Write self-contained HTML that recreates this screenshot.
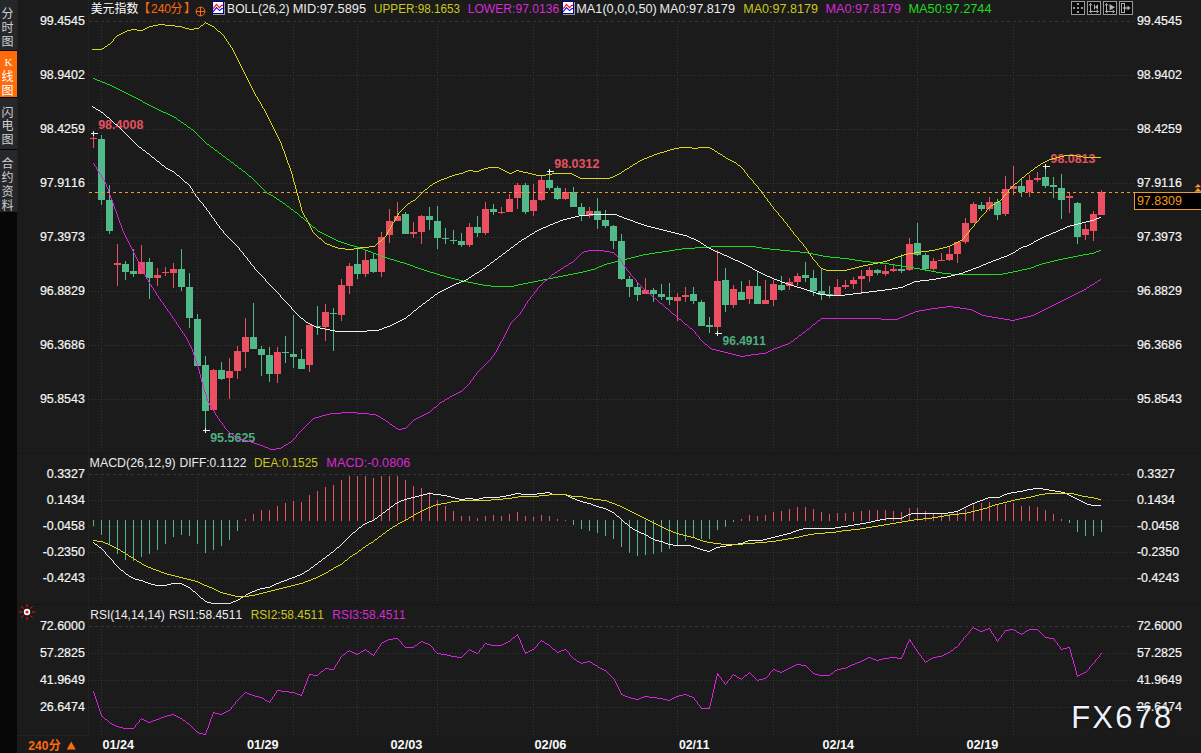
<!DOCTYPE html>
<html><head><meta charset="utf-8"><title>chart</title>
<style>
html,body{margin:0;padding:0;background:#1b1b1b;overflow:hidden}
svg{display:block;font-family:"Liberation Sans","Noto Sans CJK SC",sans-serif}
text{white-space:pre;font-kerning:none}
</style></head><body>
<svg width="1201" height="753" viewBox="0 0 1201 753">
<rect x="0" y="0" width="1201" height="753" fill="#1b1b1b"/>
<rect x="0" y="0" width="17" height="753" fill="#070707"/>
<rect x="0" y="0" width="17.5" height="50" fill="#26272b"/>
<rect x="0" y="51" width="17" height="46" fill="#ff6a0a"/>
<rect x="0" y="98" width="17.5" height="51" fill="#26272b"/>
<rect x="0" y="150" width="17.5" height="62" fill="#26272b"/>
<text x="7.6" y="17.5" fill="#cfcfcf" font-size="12" text-anchor="middle" font-family="'Liberation Sans','Noto Sans CJK SC',sans-serif">分</text>
<text x="7.6" y="31.5" fill="#cfcfcf" font-size="12" text-anchor="middle" font-family="'Liberation Sans','Noto Sans CJK SC',sans-serif">时</text>
<text x="7.6" y="45.5" fill="#cfcfcf" font-size="12" text-anchor="middle" font-family="'Liberation Sans','Noto Sans CJK SC',sans-serif">图</text>
<text x="7.6" y="80.5" fill="#ffffff" font-size="12" text-anchor="middle" font-family="'Liberation Sans','Noto Sans CJK SC',sans-serif">线</text>
<text x="7.6" y="94.5" fill="#ffffff" font-size="12" text-anchor="middle" font-family="'Liberation Sans','Noto Sans CJK SC',sans-serif">图</text>
<text x="8.5" y="65.7" fill="#fff" font-size="11" text-anchor="middle" font-family="Liberation Serif">K</text>
<text x="7.6" y="116.5" fill="#cfcfcf" font-size="12" text-anchor="middle" font-family="'Liberation Sans','Noto Sans CJK SC',sans-serif">闪</text>
<text x="7.6" y="129.8" fill="#cfcfcf" font-size="12" text-anchor="middle" font-family="'Liberation Sans','Noto Sans CJK SC',sans-serif">电</text>
<text x="7.6" y="143.5" fill="#cfcfcf" font-size="12" text-anchor="middle" font-family="'Liberation Sans','Noto Sans CJK SC',sans-serif">图</text>
<text x="7.6" y="168.3" fill="#cfcfcf" font-size="12" text-anchor="middle" font-family="'Liberation Sans','Noto Sans CJK SC',sans-serif">合</text>
<text x="7.6" y="182.3" fill="#cfcfcf" font-size="12" text-anchor="middle" font-family="'Liberation Sans','Noto Sans CJK SC',sans-serif">约</text>
<text x="7.6" y="195.8" fill="#cfcfcf" font-size="12" text-anchor="middle" font-family="'Liberation Sans','Noto Sans CJK SC',sans-serif">资</text>
<text x="7.6" y="210" fill="#cfcfcf" font-size="12" text-anchor="middle" font-family="'Liberation Sans','Noto Sans CJK SC',sans-serif">料</text>
<rect x="88" y="0" width="1" height="735" fill="#222222"/>
<rect x="18" y="453" width="1183" height="1" fill="#161616"/>
<rect x="18" y="604" width="1183" height="1" fill="#161616"/>
<rect x="17" y="735" width="1184" height="18" fill="#1a1a1a"/>
<rect x="17" y="735" width="72" height="1" fill="#232323"/>
<g shape-rendering="crispEdges">
<line x1="89" y1="21.5" x2="1134" y2="21.5" stroke="#373737" stroke-width="1" stroke-dasharray="3 3"/>
<line x1="89" y1="75.5" x2="1134" y2="75.5" stroke="#373737" stroke-width="1" stroke-dasharray="1 2"/>
<line x1="89" y1="129.5" x2="1134" y2="129.5" stroke="#373737" stroke-width="1" stroke-dasharray="1 2"/>
<line x1="89" y1="183.5" x2="1134" y2="183.5" stroke="#373737" stroke-width="1" stroke-dasharray="1 2"/>
<line x1="89" y1="237.5" x2="1134" y2="237.5" stroke="#373737" stroke-width="1" stroke-dasharray="1 2"/>
<line x1="89" y1="291.5" x2="1134" y2="291.5" stroke="#373737" stroke-width="1" stroke-dasharray="1 2"/>
<line x1="89" y1="345.5" x2="1134" y2="345.5" stroke="#373737" stroke-width="1" stroke-dasharray="1 2"/>
<line x1="89" y1="399.5" x2="1134" y2="399.5" stroke="#373737" stroke-width="1" stroke-dasharray="1 2"/>
<line x1="89" y1="474.5" x2="1134" y2="474.5" stroke="#373737" stroke-width="1" stroke-dasharray="3 3"/>
<line x1="89" y1="500.5" x2="1134" y2="500.5" stroke="#373737" stroke-width="1" stroke-dasharray="1 2"/>
<line x1="89" y1="526.5" x2="1134" y2="526.5" stroke="#373737" stroke-width="1" stroke-dasharray="1 2"/>
<line x1="89" y1="552.5" x2="1134" y2="552.5" stroke="#373737" stroke-width="1" stroke-dasharray="1 2"/>
<line x1="89" y1="578.5" x2="1134" y2="578.5" stroke="#373737" stroke-width="1" stroke-dasharray="1 2"/>
<line x1="89" y1="626.5" x2="1134" y2="626.5" stroke="#373737" stroke-width="1" stroke-dasharray="3 3"/>
<line x1="89" y1="653.5" x2="1134" y2="653.5" stroke="#373737" stroke-width="1" stroke-dasharray="1 2"/>
<line x1="89" y1="680.5" x2="1134" y2="680.5" stroke="#373737" stroke-width="1" stroke-dasharray="1 2"/>
<line x1="89" y1="707.5" x2="1134" y2="707.5" stroke="#373737" stroke-width="1" stroke-dasharray="1 2"/>
<line x1="101.5" y1="24" x2="101.5" y2="452" stroke="#373737" stroke-width="1" stroke-dasharray="1 2"/>
<line x1="101.5" y1="477" x2="101.5" y2="603" stroke="#373737" stroke-width="1" stroke-dasharray="1 2"/>
<line x1="101.5" y1="629" x2="101.5" y2="735" stroke="#373737" stroke-width="1" stroke-dasharray="1 2"/>
<line x1="197.5" y1="24" x2="197.5" y2="452" stroke="#373737" stroke-width="1" stroke-dasharray="1 2"/>
<line x1="197.5" y1="477" x2="197.5" y2="603" stroke="#373737" stroke-width="1" stroke-dasharray="1 2"/>
<line x1="197.5" y1="629" x2="197.5" y2="735" stroke="#373737" stroke-width="1" stroke-dasharray="1 2"/>
<line x1="293.5" y1="24" x2="293.5" y2="452" stroke="#373737" stroke-width="1" stroke-dasharray="1 2"/>
<line x1="293.5" y1="477" x2="293.5" y2="603" stroke="#373737" stroke-width="1" stroke-dasharray="1 2"/>
<line x1="293.5" y1="629" x2="293.5" y2="735" stroke="#373737" stroke-width="1" stroke-dasharray="1 2"/>
<line x1="357.5" y1="24" x2="357.5" y2="452" stroke="#373737" stroke-width="1" stroke-dasharray="1 2"/>
<line x1="357.5" y1="477" x2="357.5" y2="603" stroke="#373737" stroke-width="1" stroke-dasharray="1 2"/>
<line x1="357.5" y1="629" x2="357.5" y2="735" stroke="#373737" stroke-width="1" stroke-dasharray="1 2"/>
<line x1="437.5" y1="24" x2="437.5" y2="452" stroke="#373737" stroke-width="1" stroke-dasharray="1 2"/>
<line x1="437.5" y1="477" x2="437.5" y2="603" stroke="#373737" stroke-width="1" stroke-dasharray="1 2"/>
<line x1="437.5" y1="629" x2="437.5" y2="735" stroke="#373737" stroke-width="1" stroke-dasharray="1 2"/>
<line x1="533.5" y1="24" x2="533.5" y2="452" stroke="#373737" stroke-width="1" stroke-dasharray="1 2"/>
<line x1="533.5" y1="477" x2="533.5" y2="603" stroke="#373737" stroke-width="1" stroke-dasharray="1 2"/>
<line x1="533.5" y1="629" x2="533.5" y2="735" stroke="#373737" stroke-width="1" stroke-dasharray="1 2"/>
<line x1="597.5" y1="24" x2="597.5" y2="452" stroke="#373737" stroke-width="1" stroke-dasharray="1 2"/>
<line x1="597.5" y1="477" x2="597.5" y2="603" stroke="#373737" stroke-width="1" stroke-dasharray="1 2"/>
<line x1="597.5" y1="629" x2="597.5" y2="735" stroke="#373737" stroke-width="1" stroke-dasharray="1 2"/>
<line x1="677.5" y1="24" x2="677.5" y2="452" stroke="#373737" stroke-width="1" stroke-dasharray="1 2"/>
<line x1="677.5" y1="477" x2="677.5" y2="603" stroke="#373737" stroke-width="1" stroke-dasharray="1 2"/>
<line x1="677.5" y1="629" x2="677.5" y2="735" stroke="#373737" stroke-width="1" stroke-dasharray="1 2"/>
<line x1="773.5" y1="24" x2="773.5" y2="452" stroke="#373737" stroke-width="1" stroke-dasharray="1 2"/>
<line x1="773.5" y1="477" x2="773.5" y2="603" stroke="#373737" stroke-width="1" stroke-dasharray="1 2"/>
<line x1="773.5" y1="629" x2="773.5" y2="735" stroke="#373737" stroke-width="1" stroke-dasharray="1 2"/>
<line x1="837.5" y1="24" x2="837.5" y2="452" stroke="#373737" stroke-width="1" stroke-dasharray="1 2"/>
<line x1="837.5" y1="477" x2="837.5" y2="603" stroke="#373737" stroke-width="1" stroke-dasharray="1 2"/>
<line x1="837.5" y1="629" x2="837.5" y2="735" stroke="#373737" stroke-width="1" stroke-dasharray="1 2"/>
<line x1="917.5" y1="24" x2="917.5" y2="452" stroke="#373737" stroke-width="1" stroke-dasharray="1 2"/>
<line x1="917.5" y1="477" x2="917.5" y2="603" stroke="#373737" stroke-width="1" stroke-dasharray="1 2"/>
<line x1="917.5" y1="629" x2="917.5" y2="735" stroke="#373737" stroke-width="1" stroke-dasharray="1 2"/>
<line x1="1013.5" y1="24" x2="1013.5" y2="452" stroke="#373737" stroke-width="1" stroke-dasharray="1 2"/>
<line x1="1013.5" y1="477" x2="1013.5" y2="603" stroke="#373737" stroke-width="1" stroke-dasharray="1 2"/>
<line x1="1013.5" y1="629" x2="1013.5" y2="735" stroke="#373737" stroke-width="1" stroke-dasharray="1 2"/>
</g>
<g shape-rendering="crispEdges">
<rect x="93" y="136" width="1" height="12" fill="#ec4f62"/>
<rect x="90" y="138" width="7" height="1" fill="#ec4f62"/>
<rect x="101" y="135" width="1" height="70" fill="#52b98a"/>
<rect x="98" y="139" width="7" height="61" fill="#52b98a"/>
<rect x="109" y="185" width="1" height="49" fill="#52b98a"/>
<rect x="106" y="200" width="7" height="31" fill="#52b98a"/>
<rect x="117" y="244" width="1" height="42" fill="#ec4f62"/>
<rect x="114" y="263" width="7" height="2" fill="#ec4f62"/>
<rect x="125" y="261" width="1" height="19" fill="#52b98a"/>
<rect x="122" y="264" width="7" height="8" fill="#52b98a"/>
<rect x="133" y="249" width="1" height="28" fill="#52b98a"/>
<rect x="130" y="271" width="7" height="3" fill="#52b98a"/>
<rect x="141" y="245" width="1" height="29" fill="#ec4f62"/>
<rect x="138" y="262" width="7" height="12" fill="#ec4f62"/>
<rect x="149" y="258" width="1" height="41" fill="#52b98a"/>
<rect x="146" y="262" width="7" height="16" fill="#52b98a"/>
<rect x="157" y="268" width="1" height="18" fill="#ec4f62"/>
<rect x="154" y="275" width="7" height="3" fill="#ec4f62"/>
<rect x="165" y="267" width="1" height="9" fill="#ec4f62"/>
<rect x="162" y="272" width="7" height="1" fill="#ec4f62"/>
<rect x="173" y="263" width="1" height="25" fill="#ec4f62"/>
<rect x="170" y="269" width="7" height="4" fill="#ec4f62"/>
<rect x="181" y="249" width="1" height="42" fill="#52b98a"/>
<rect x="178" y="269" width="7" height="18" fill="#52b98a"/>
<rect x="189" y="273" width="1" height="55" fill="#52b98a"/>
<rect x="186" y="287" width="7" height="31" fill="#52b98a"/>
<rect x="197" y="314" width="1" height="52" fill="#52b98a"/>
<rect x="194" y="319" width="7" height="47" fill="#52b98a"/>
<rect x="205" y="356" width="1" height="74" fill="#52b98a"/>
<rect x="202" y="365" width="7" height="46" fill="#52b98a"/>
<rect x="213" y="369" width="1" height="41" fill="#ec4f62"/>
<rect x="210" y="370" width="7" height="40" fill="#ec4f62"/>
<rect x="221" y="362" width="1" height="18" fill="#52b98a"/>
<rect x="218" y="370" width="7" height="9" fill="#52b98a"/>
<rect x="229" y="358" width="1" height="41" fill="#ec4f62"/>
<rect x="226" y="371" width="7" height="7" fill="#ec4f62"/>
<rect x="237" y="346" width="1" height="33" fill="#ec4f62"/>
<rect x="234" y="351" width="7" height="20" fill="#ec4f62"/>
<rect x="245" y="318" width="1" height="50" fill="#ec4f62"/>
<rect x="242" y="337" width="7" height="15" fill="#ec4f62"/>
<rect x="253" y="303" width="1" height="46" fill="#52b98a"/>
<rect x="250" y="337" width="7" height="12" fill="#52b98a"/>
<rect x="261" y="346" width="1" height="30" fill="#52b98a"/>
<rect x="258" y="349" width="7" height="6" fill="#52b98a"/>
<rect x="269" y="347" width="1" height="35" fill="#52b98a"/>
<rect x="266" y="355" width="7" height="19" fill="#52b98a"/>
<rect x="277" y="347" width="1" height="36" fill="#ec4f62"/>
<rect x="274" y="352" width="7" height="22" fill="#ec4f62"/>
<rect x="285" y="336" width="1" height="27" fill="#52b98a"/>
<rect x="282" y="352" width="7" height="1" fill="#52b98a"/>
<rect x="293" y="315" width="1" height="53" fill="#52b98a"/>
<rect x="290" y="354" width="7" height="3" fill="#52b98a"/>
<rect x="301" y="349" width="1" height="20" fill="#52b98a"/>
<rect x="298" y="359" width="7" height="10" fill="#52b98a"/>
<rect x="309" y="325" width="1" height="47" fill="#ec4f62"/>
<rect x="306" y="325" width="7" height="40" fill="#ec4f62"/>
<rect x="317" y="306" width="1" height="29" fill="#52b98a"/>
<rect x="314" y="326" width="7" height="1" fill="#52b98a"/>
<rect x="325" y="304" width="1" height="37" fill="#ec4f62"/>
<rect x="322" y="312" width="7" height="15" fill="#ec4f62"/>
<rect x="333" y="308" width="1" height="43" fill="#52b98a"/>
<rect x="330" y="313" width="7" height="1" fill="#52b98a"/>
<rect x="341" y="279" width="1" height="42" fill="#ec4f62"/>
<rect x="338" y="285" width="7" height="30" fill="#ec4f62"/>
<rect x="349" y="263" width="1" height="31" fill="#ec4f62"/>
<rect x="346" y="266" width="7" height="20" fill="#ec4f62"/>
<rect x="357" y="248" width="1" height="31" fill="#52b98a"/>
<rect x="354" y="264" width="7" height="10" fill="#52b98a"/>
<rect x="365" y="251" width="1" height="26" fill="#ec4f62"/>
<rect x="362" y="260" width="7" height="14" fill="#ec4f62"/>
<rect x="373" y="254" width="1" height="19" fill="#52b98a"/>
<rect x="370" y="259" width="7" height="13" fill="#52b98a"/>
<rect x="381" y="232" width="1" height="45" fill="#ec4f62"/>
<rect x="378" y="237" width="7" height="35" fill="#ec4f62"/>
<rect x="389" y="209" width="1" height="34" fill="#ec4f62"/>
<rect x="386" y="221" width="7" height="14" fill="#ec4f62"/>
<rect x="397" y="202" width="1" height="19" fill="#ec4f62"/>
<rect x="394" y="216" width="7" height="5" fill="#ec4f62"/>
<rect x="405" y="212" width="1" height="22" fill="#52b98a"/>
<rect x="402" y="214" width="7" height="20" fill="#52b98a"/>
<rect x="413" y="222" width="1" height="16" fill="#ec4f62"/>
<rect x="410" y="232" width="7" height="2" fill="#ec4f62"/>
<rect x="421" y="215" width="1" height="29" fill="#ec4f62"/>
<rect x="418" y="216" width="7" height="16" fill="#ec4f62"/>
<rect x="429" y="207" width="1" height="23" fill="#52b98a"/>
<rect x="426" y="216" width="7" height="4" fill="#52b98a"/>
<rect x="437" y="206" width="1" height="43" fill="#52b98a"/>
<rect x="434" y="221" width="7" height="17" fill="#52b98a"/>
<rect x="445" y="228" width="1" height="16" fill="#52b98a"/>
<rect x="442" y="238" width="7" height="1" fill="#52b98a"/>
<rect x="453" y="230" width="1" height="14" fill="#52b98a"/>
<rect x="450" y="240" width="7" height="1" fill="#52b98a"/>
<rect x="461" y="233" width="1" height="14" fill="#52b98a"/>
<rect x="458" y="241" width="7" height="4" fill="#52b98a"/>
<rect x="469" y="223" width="1" height="24" fill="#ec4f62"/>
<rect x="466" y="227" width="7" height="18" fill="#ec4f62"/>
<rect x="477" y="216" width="1" height="21" fill="#52b98a"/>
<rect x="474" y="227" width="7" height="6" fill="#52b98a"/>
<rect x="485" y="202" width="1" height="33" fill="#ec4f62"/>
<rect x="482" y="209" width="7" height="24" fill="#ec4f62"/>
<rect x="493" y="204" width="1" height="11" fill="#52b98a"/>
<rect x="490" y="209" width="7" height="3" fill="#52b98a"/>
<rect x="501" y="207" width="1" height="7" fill="#ec4f62"/>
<rect x="498" y="212" width="7" height="1" fill="#ec4f62"/>
<rect x="509" y="194" width="1" height="18" fill="#ec4f62"/>
<rect x="506" y="199" width="7" height="13" fill="#ec4f62"/>
<rect x="517" y="183" width="1" height="26" fill="#ec4f62"/>
<rect x="514" y="185" width="7" height="13" fill="#ec4f62"/>
<rect x="525" y="183" width="1" height="31" fill="#52b98a"/>
<rect x="522" y="185" width="7" height="27" fill="#52b98a"/>
<rect x="533" y="184" width="1" height="32" fill="#ec4f62"/>
<rect x="530" y="200" width="7" height="11" fill="#ec4f62"/>
<rect x="541" y="176" width="1" height="25" fill="#ec4f62"/>
<rect x="538" y="180" width="7" height="20" fill="#ec4f62"/>
<rect x="549" y="170" width="1" height="20" fill="#52b98a"/>
<rect x="546" y="180" width="7" height="8" fill="#52b98a"/>
<rect x="557" y="186" width="1" height="14" fill="#52b98a"/>
<rect x="554" y="188" width="7" height="11" fill="#52b98a"/>
<rect x="565" y="188" width="1" height="12" fill="#ec4f62"/>
<rect x="562" y="192" width="7" height="7" fill="#ec4f62"/>
<rect x="573" y="187" width="1" height="20" fill="#52b98a"/>
<rect x="570" y="192" width="7" height="15" fill="#52b98a"/>
<rect x="581" y="203" width="1" height="18" fill="#52b98a"/>
<rect x="578" y="207" width="7" height="8" fill="#52b98a"/>
<rect x="589" y="207" width="1" height="11" fill="#ec4f62"/>
<rect x="586" y="211" width="7" height="5" fill="#ec4f62"/>
<rect x="597" y="198" width="1" height="31" fill="#52b98a"/>
<rect x="594" y="211" width="7" height="9" fill="#52b98a"/>
<rect x="605" y="210" width="1" height="18" fill="#52b98a"/>
<rect x="602" y="220" width="7" height="6" fill="#52b98a"/>
<rect x="613" y="225" width="1" height="24" fill="#52b98a"/>
<rect x="610" y="226" width="7" height="15" fill="#52b98a"/>
<rect x="621" y="234" width="1" height="46" fill="#52b98a"/>
<rect x="618" y="241" width="7" height="38" fill="#52b98a"/>
<rect x="629" y="276" width="1" height="21" fill="#52b98a"/>
<rect x="626" y="279" width="7" height="8" fill="#52b98a"/>
<rect x="637" y="283" width="1" height="18" fill="#52b98a"/>
<rect x="634" y="287" width="7" height="8" fill="#52b98a"/>
<rect x="645" y="278" width="1" height="16" fill="#ec4f62"/>
<rect x="642" y="290" width="7" height="4" fill="#ec4f62"/>
<rect x="653" y="288" width="1" height="14" fill="#52b98a"/>
<rect x="650" y="290" width="7" height="4" fill="#52b98a"/>
<rect x="661" y="284" width="1" height="16" fill="#52b98a"/>
<rect x="658" y="294" width="7" height="3" fill="#52b98a"/>
<rect x="669" y="283" width="1" height="22" fill="#52b98a"/>
<rect x="666" y="297" width="7" height="3" fill="#52b98a"/>
<rect x="677" y="293" width="1" height="28" fill="#ec4f62"/>
<rect x="674" y="297" width="7" height="4" fill="#ec4f62"/>
<rect x="685" y="287" width="1" height="15" fill="#ec4f62"/>
<rect x="682" y="295" width="7" height="2" fill="#ec4f62"/>
<rect x="693" y="287" width="1" height="17" fill="#52b98a"/>
<rect x="690" y="294" width="7" height="7" fill="#52b98a"/>
<rect x="701" y="300" width="1" height="26" fill="#52b98a"/>
<rect x="698" y="302" width="7" height="24" fill="#52b98a"/>
<rect x="709" y="317" width="1" height="16" fill="#52b98a"/>
<rect x="706" y="325" width="7" height="2" fill="#52b98a"/>
<rect x="717" y="250" width="1" height="84" fill="#ec4f62"/>
<rect x="714" y="281" width="7" height="46" fill="#ec4f62"/>
<rect x="725" y="268" width="1" height="44" fill="#52b98a"/>
<rect x="722" y="280" width="7" height="25" fill="#52b98a"/>
<rect x="733" y="285" width="1" height="23" fill="#ec4f62"/>
<rect x="730" y="289" width="7" height="16" fill="#ec4f62"/>
<rect x="741" y="281" width="1" height="19" fill="#52b98a"/>
<rect x="738" y="292" width="7" height="8" fill="#52b98a"/>
<rect x="749" y="280" width="1" height="24" fill="#ec4f62"/>
<rect x="746" y="286" width="7" height="13" fill="#ec4f62"/>
<rect x="757" y="271" width="1" height="33" fill="#52b98a"/>
<rect x="754" y="286" width="7" height="18" fill="#52b98a"/>
<rect x="765" y="280" width="1" height="24" fill="#ec4f62"/>
<rect x="762" y="300" width="7" height="4" fill="#ec4f62"/>
<rect x="773" y="280" width="1" height="26" fill="#ec4f62"/>
<rect x="770" y="284" width="7" height="16" fill="#ec4f62"/>
<rect x="781" y="276" width="1" height="15" fill="#52b98a"/>
<rect x="778" y="285" width="7" height="5" fill="#52b98a"/>
<rect x="789" y="278" width="1" height="12" fill="#ec4f62"/>
<rect x="786" y="282" width="7" height="4" fill="#ec4f62"/>
<rect x="797" y="273" width="1" height="13" fill="#ec4f62"/>
<rect x="794" y="276" width="7" height="6" fill="#ec4f62"/>
<rect x="805" y="262" width="1" height="20" fill="#52b98a"/>
<rect x="802" y="275" width="7" height="3" fill="#52b98a"/>
<rect x="813" y="270" width="1" height="26" fill="#52b98a"/>
<rect x="810" y="278" width="7" height="13" fill="#52b98a"/>
<rect x="821" y="269" width="1" height="31" fill="#52b98a"/>
<rect x="818" y="291" width="7" height="4" fill="#52b98a"/>
<rect x="829" y="286" width="1" height="12" fill="#52b98a"/>
<rect x="826" y="294" width="7" height="2" fill="#52b98a"/>
<rect x="837" y="279" width="1" height="17" fill="#ec4f62"/>
<rect x="834" y="287" width="7" height="9" fill="#ec4f62"/>
<rect x="845" y="280" width="1" height="9" fill="#ec4f62"/>
<rect x="842" y="285" width="7" height="2" fill="#ec4f62"/>
<rect x="853" y="277" width="1" height="12" fill="#ec4f62"/>
<rect x="850" y="280" width="7" height="4" fill="#ec4f62"/>
<rect x="861" y="270" width="1" height="24" fill="#ec4f62"/>
<rect x="858" y="276" width="7" height="3" fill="#ec4f62"/>
<rect x="869" y="267" width="1" height="15" fill="#ec4f62"/>
<rect x="866" y="270" width="7" height="6" fill="#ec4f62"/>
<rect x="877" y="269" width="1" height="6" fill="#52b98a"/>
<rect x="874" y="270" width="7" height="3" fill="#52b98a"/>
<rect x="885" y="265" width="1" height="11" fill="#ec4f62"/>
<rect x="882" y="271" width="7" height="3" fill="#ec4f62"/>
<rect x="893" y="265" width="1" height="7" fill="#ec4f62"/>
<rect x="890" y="269" width="7" height="2" fill="#ec4f62"/>
<rect x="901" y="254" width="1" height="19" fill="#52b98a"/>
<rect x="898" y="269" width="7" height="2" fill="#52b98a"/>
<rect x="909" y="238" width="1" height="33" fill="#ec4f62"/>
<rect x="906" y="244" width="7" height="26" fill="#ec4f62"/>
<rect x="917" y="223" width="1" height="33" fill="#52b98a"/>
<rect x="914" y="243" width="7" height="12" fill="#52b98a"/>
<rect x="925" y="253" width="1" height="17" fill="#52b98a"/>
<rect x="922" y="255" width="7" height="14" fill="#52b98a"/>
<rect x="933" y="258" width="1" height="14" fill="#ec4f62"/>
<rect x="930" y="261" width="7" height="8" fill="#ec4f62"/>
<rect x="941" y="253" width="1" height="8" fill="#ec4f62"/>
<rect x="938" y="260" width="7" height="1" fill="#ec4f62"/>
<rect x="949" y="247" width="1" height="14" fill="#ec4f62"/>
<rect x="946" y="254" width="7" height="6" fill="#ec4f62"/>
<rect x="957" y="242" width="1" height="21" fill="#ec4f62"/>
<rect x="954" y="242" width="7" height="12" fill="#ec4f62"/>
<rect x="965" y="218" width="1" height="26" fill="#ec4f62"/>
<rect x="962" y="223" width="7" height="19" fill="#ec4f62"/>
<rect x="973" y="202" width="1" height="21" fill="#ec4f62"/>
<rect x="970" y="204" width="7" height="19" fill="#ec4f62"/>
<rect x="981" y="202" width="1" height="9" fill="#52b98a"/>
<rect x="978" y="205" width="7" height="4" fill="#52b98a"/>
<rect x="989" y="197" width="1" height="14" fill="#ec4f62"/>
<rect x="986" y="202" width="7" height="7" fill="#ec4f62"/>
<rect x="997" y="199" width="1" height="21" fill="#52b98a"/>
<rect x="994" y="202" width="7" height="13" fill="#52b98a"/>
<rect x="1005" y="176" width="1" height="40" fill="#ec4f62"/>
<rect x="1002" y="189" width="7" height="25" fill="#ec4f62"/>
<rect x="1013" y="166" width="1" height="29" fill="#ec4f62"/>
<rect x="1010" y="186" width="7" height="3" fill="#ec4f62"/>
<rect x="1021" y="179" width="1" height="18" fill="#52b98a"/>
<rect x="1018" y="186" width="7" height="6" fill="#52b98a"/>
<rect x="1029" y="175" width="1" height="22" fill="#ec4f62"/>
<rect x="1026" y="180" width="7" height="12" fill="#ec4f62"/>
<rect x="1037" y="172" width="1" height="10" fill="#ec4f62"/>
<rect x="1034" y="178" width="7" height="2" fill="#ec4f62"/>
<rect x="1045" y="166" width="1" height="22" fill="#52b98a"/>
<rect x="1042" y="177" width="7" height="9" fill="#52b98a"/>
<rect x="1053" y="177" width="1" height="21" fill="#52b98a"/>
<rect x="1050" y="185" width="7" height="2" fill="#52b98a"/>
<rect x="1061" y="174" width="1" height="45" fill="#52b98a"/>
<rect x="1058" y="188" width="7" height="12" fill="#52b98a"/>
<rect x="1069" y="192" width="1" height="21" fill="#ec4f62"/>
<rect x="1066" y="196" width="7" height="2" fill="#ec4f62"/>
<rect x="1077" y="202" width="1" height="42" fill="#52b98a"/>
<rect x="1074" y="203" width="7" height="34" fill="#52b98a"/>
<rect x="1085" y="224" width="1" height="16" fill="#ec4f62"/>
<rect x="1082" y="229" width="7" height="6" fill="#ec4f62"/>
<rect x="1093" y="211" width="1" height="30" fill="#ec4f62"/>
<rect x="1090" y="214" width="7" height="17" fill="#ec4f62"/>
<rect x="1101" y="190" width="1" height="25" fill="#ec4f62"/>
<rect x="1098" y="192" width="7" height="23" fill="#ec4f62"/>
</g>
<text x="98.17" y="128.7" fill="#e4525f" font-size="12" font-weight="bold" textLength="45.22" lengthAdjust="spacingAndGlyphs" >98.4008</text>
<text x="554.17" y="168.3" fill="#e4525f" font-size="12" font-weight="bold" textLength="45.34" lengthAdjust="spacingAndGlyphs" >98.0312</text>
<text x="1050.57" y="163.3" fill="#e4525f" font-size="12" font-weight="bold" textLength="44.88" lengthAdjust="spacingAndGlyphs" >98.0813</text>
<text x="210.17" y="442" fill="#4fae84" font-size="12" font-weight="bold" textLength="45.18" lengthAdjust="spacingAndGlyphs" >95.5625</text>
<text x="722.59" y="345.3" fill="#4fae84" font-size="12" font-weight="bold" textLength="43.25" lengthAdjust="spacingAndGlyphs" >96.4911</text>
<g shape-rendering="crispEdges" stroke-linejoin="round">
<path d="M93 78h2v1h-2zM95 79h2v1h-2zM97 80h3v1h-3zM100 81h2v1h-2zM102 82h3v1h-3zM105 83h2v1h-2zM107 84h3v1h-3zM110 85h2v1h-2zM112 86h2v1h-2zM114 87h2v1h-2zM116 88h2v1h-2zM118 89h2v1h-2zM120 90h2v1h-2zM122 91h2v1h-2zM124 92h2v1h-2zM126 93h2v1h-2zM128 94h2v1h-2zM130 95h2v1h-2zM132 96h2v1h-2zM134 97h2v1h-2zM136 98h2v1h-2zM138 99h2v1h-2zM140 100h2v1h-2zM142 101h1v1h-1zM143 102h2v1h-2zM145 103h2v1h-2zM147 104h2v1h-2zM149 105h2v1h-2zM151 106h2v1h-2zM153 107h2v1h-2zM155 108h2v1h-2zM157 109h2v1h-2zM159 110h2v1h-2zM161 111h2v1h-2zM163 112h3v1h-3zM166 113h2v1h-2zM168 114h2v1h-2zM170 115h2v1h-2zM172 116h2v1h-2zM174 117h2v1h-2zM176 118h1v1h-1zM177 119h1v1h-1zM178 120h2v1h-2zM180 121h1v1h-1zM181 122h2v1h-2zM183 123h1v1h-1zM184 124h2v1h-2zM186 125h1v1h-1zM187 126h1v1h-1zM188 127h2v1h-2zM190 128h1v1h-1zM191 129h2v1h-2zM193 130h1v1h-1zM194 131h1v1h-1zM195 132h1v1h-1zM196 133h1v1h-1zM197 134h1v1h-1zM198 135h1v1h-1zM199 136h1v1h-1zM200 137h1v1h-1zM201 138h1v1h-1zM202 139h1v1h-1zM203 140h1v1h-1zM204 141h1v1h-1zM205 142h1v1h-1zM206 143h1v1h-1zM207 144h2v1h-2zM209 145h1v1h-1zM210 146h1v1h-1zM211 147h2v1h-2zM213 148h1v1h-1zM214 149h1v1h-1zM215 150h2v1h-2zM217 151h1v1h-1zM218 152h1v1h-1zM219 153h2v1h-2zM221 154h1v1h-1zM222 155h1v1h-1zM223 156h2v1h-2zM225 157h1v1h-1zM226 158h1v1h-1zM227 159h2v1h-2zM229 160h1v1h-1zM230 161h1v1h-1zM231 162h2v1h-2zM233 163h1v1h-1zM234 164h1v1h-1zM235 165h2v1h-2zM237 166h1v1h-1zM238 167h1v1h-1zM239 168h2v1h-2zM241 169h1v1h-1zM242 170h1v1h-1zM243 171h2v1h-2zM245 172h1v1h-1zM246 173h1v1h-1zM247 174h1v1h-1zM248 175h1v1h-1zM249 176h2v1h-2zM251 177h1v1h-1zM252 178h1v1h-1zM253 179h1v1h-1zM254 180h1v1h-1zM255 181h1v1h-1zM256 182h1v1h-1zM257 183h1v1h-1zM258 184h1v1h-1zM259 185h1v1h-1zM260 186h1v1h-1zM261 187h1v1h-1zM262 188h1v1h-1zM263 189h1v1h-1zM264 190h1v1h-1zM265 191h1v1h-1zM266 192h1v1h-1zM267 193h2v1h-2zM269 194h2v1h-2zM271 195h2v1h-2zM273 196h1v1h-1zM274 197h2v1h-2zM276 198h1v1h-1zM277 199h2v1h-2zM279 200h1v1h-1zM280 201h2v1h-2zM282 202h1v1h-1zM283 203h2v1h-2zM285 204h1v1h-1zM286 205h1v1h-1zM287 206h2v1h-2zM289 207h1v1h-1zM290 208h1v1h-1zM291 209h2v1h-2zM293 210h1v1h-1zM294 211h1v1h-1zM295 212h2v1h-2zM297 213h1v1h-1zM298 214h1v1h-1zM299 215h1v1h-1zM300 216h1v1h-1zM301 217h2v1h-2zM303 218h1v1h-1zM304 219h1v1h-1zM305 220h1v1h-1zM306 221h2v1h-2zM308 222h1v1h-1zM309 223h1v1h-1zM310 224h1v1h-1zM311 225h1v1h-1zM312 226h1v1h-1zM313 227h2v1h-2zM315 228h1v1h-1zM316 229h1v1h-1zM317 230h1v1h-1zM318 231h2v1h-2zM320 232h2v1h-2zM322 233h2v1h-2zM324 234h2v1h-2zM326 235h2v1h-2zM328 236h2v1h-2zM330 237h2v1h-2zM332 238h2v1h-2zM334 239h2v1h-2zM336 240h2v1h-2zM338 241h3v1h-3zM341 242h3v1h-3zM344 243h3v1h-3zM347 244h3v1h-3zM350 245h4v1h-4zM354 246h3v1h-3zM711 246h45v1h-45zM357 247h3v1h-3zM695 247h16v1h-16zM756 247h6v1h-6zM360 248h3v1h-3zM682 248h13v1h-13zM762 248h8v1h-8zM363 249h2v1h-2zM675 249h7v1h-7zM770 249h10v1h-10zM365 250h3v1h-3zM669 250h6v1h-6zM780 250h10v1h-10zM1099 250h2v1h-2zM368 251h3v1h-3zM662 251h7v1h-7zM790 251h10v1h-10zM1096 251h3v1h-3zM371 252h2v1h-2zM655 252h7v1h-7zM800 252h8v1h-8zM1094 252h2v1h-2zM373 253h3v1h-3zM649 253h6v1h-6zM808 253h5v1h-5zM1089 253h5v1h-5zM376 254h3v1h-3zM643 254h6v1h-6zM813 254h5v1h-5zM1083 254h6v1h-6zM379 255h2v1h-2zM639 255h4v1h-4zM818 255h5v1h-5zM1078 255h5v1h-5zM381 256h3v1h-3zM635 256h4v1h-4zM823 256h7v1h-7zM1073 256h5v1h-5zM384 257h3v1h-3zM631 257h4v1h-4zM830 257h10v1h-10zM1068 257h5v1h-5zM387 258h3v1h-3zM627 258h4v1h-4zM840 258h9v1h-9zM1063 258h5v1h-5zM390 259h4v1h-4zM623 259h4v1h-4zM849 259h6v1h-6zM1058 259h5v1h-5zM394 260h3v1h-3zM619 260h4v1h-4zM855 260h7v1h-7zM1054 260h4v1h-4zM397 261h3v1h-3zM615 261h4v1h-4zM862 261h8v1h-8zM1050 261h4v1h-4zM400 262h4v1h-4zM611 262h4v1h-4zM870 262h10v1h-10zM1046 262h4v1h-4zM404 263h3v1h-3zM607 263h4v1h-4zM880 263h9v1h-9zM1042 263h4v1h-4zM407 264h3v1h-3zM604 264h3v1h-3zM889 264h6v1h-6zM1039 264h3v1h-3zM410 265h3v1h-3zM602 265h2v1h-2zM895 265h7v1h-7zM1036 265h3v1h-3zM413 266h2v1h-2zM599 266h3v1h-3zM902 266h6v1h-6zM1034 266h2v1h-2zM415 267h3v1h-3zM597 267h2v1h-2zM908 267h6v1h-6zM1031 267h3v1h-3zM418 268h3v1h-3zM595 268h2v1h-2zM914 268h6v1h-6zM1027 268h4v1h-4zM421 269h3v1h-3zM591 269h4v1h-4zM920 269h5v1h-5zM1022 269h5v1h-5zM424 270h3v1h-3zM587 270h4v1h-4zM925 270h6v1h-6zM1018 270h4v1h-4zM427 271h3v1h-3zM583 271h4v1h-4zM931 271h5v1h-5zM1013 271h5v1h-5zM430 272h4v1h-4zM578 272h5v1h-5zM936 272h6v1h-6zM1008 272h5v1h-5zM434 273h3v1h-3zM573 273h5v1h-5zM942 273h9v1h-9zM1003 273h5v1h-5zM437 274h3v1h-3zM568 274h5v1h-5zM951 274h52v1h-52zM440 275h4v1h-4zM563 275h5v1h-5zM444 276h3v1h-3zM558 276h5v1h-5zM447 277h4v1h-4zM553 277h5v1h-5zM451 278h4v1h-4zM548 278h5v1h-5zM455 279h4v1h-4zM543 279h5v1h-5zM459 280h4v1h-4zM538 280h5v1h-5zM463 281h5v1h-5zM533 281h5v1h-5zM468 282h5v1h-5zM528 282h5v1h-5zM473 283h5v1h-5zM523 283h5v1h-5zM478 284h5v1h-5zM518 284h5v1h-5zM483 285h8v1h-8zM514 285h4v1h-4zM491 286h23v1h-23z" fill="#20dc20"/>
<path d="M92 106h1v1h-1zM93 107h2v1h-2zM95 108h1v1h-1zM96 109h2v1h-2zM98 110h2v1h-2zM100 111h1v1h-1zM101 112h2v1h-2zM103 113h1v1h-1zM104 114h1v1h-1zM105 115h1v1h-1zM106 116h1v1h-1zM107 117h2v1h-2zM109 118h1v1h-1zM110 119h1v1h-1zM111 120h1v1h-1zM112 121h1v1h-1zM113 122h1v1h-1zM114 123h1v1h-1zM115 124h2v1h-2zM117 125h1v1h-1zM118 126h1v1h-1zM119 127h1v1h-1zM120 128h1v1h-1zM121 129h1v1h-1zM122 130h1v1h-1zM123 131h1v1h-1zM124 132h1v1h-1zM125 133h1v1h-1zM126 134h1v1h-1zM127 135h1v1h-1zM128 136h1v1h-1zM129 137h1v1h-1zM130 138h1v1h-1zM131 139h1v1h-1zM132 140h1v1h-1zM133 141h1v1h-1zM134 142h1v1h-1zM135 143h1v1h-1zM136 144h1v1h-1zM137 145h1v1h-1zM138 146h1v1h-1zM139 147h2v1h-2zM141 148h1v1h-1zM142 149h1v1h-1zM143 150h2v1h-2zM145 151h1v1h-1zM146 152h1v1h-1zM147 153h2v1h-2zM149 154h1v1h-1zM150 155h1v1h-1zM151 156h1v1h-1zM152 157h2v1h-2zM154 158h1v1h-1zM155 159h1v1h-1zM156 160h1v1h-1zM157 161h2v1h-2zM159 162h1v1h-1zM160 163h1v1h-1zM161 164h1v1h-1zM162 165h2v1h-2zM164 166h1v1h-1zM165 167h1v1h-1zM166 168h2v1h-2zM168 169h2v1h-2zM170 170h2v1h-2zM172 171h2v1h-2zM174 172h1v1h-1zM175 173h1v1h-1zM176 174h1v1h-1zM177 175h2v1h-2zM179 176h1v1h-1zM180 177h1v1h-1zM181 178h1v1h-1zM182 179h1v1h-1zM183 180h1v1h-1zM184 181h1v1h-1zM185 182h2v1h-2zM187 183h1v1h-1zM188 184h1v1h-1zM189 185h1v1h-1zM190 186h1v1h-1zM190 187h1v1h-1zM191 188h1v1h-1zM192 189h1v1h-1zM192 190h1v1h-1zM193 191h1v1h-1zM193 192h1v1h-1zM194 193h1v1h-1zM195 194h1v1h-1zM195 195h1v1h-1zM196 196h1v1h-1zM197 197h1v1h-1zM198 198h1v1h-1zM198 199h1v1h-1zM199 200h1v1h-1zM200 201h1v1h-1zM201 202h1v1h-1zM202 203h1v1h-1zM203 204h1v1h-1zM203 205h1v1h-1zM204 206h1v1h-1zM205 207h1v1h-1zM206 208h1v1h-1zM206 209h1v1h-1zM207 210h1v1h-1zM208 211h1v1h-1zM209 212h1v1h-1zM209 213h1v1h-1zM210 214h1v1h-1zM589 214h28v1h-28zM211 215h1v1h-1zM579 215h10v1h-10zM617 215h2v1h-2zM211 216h1v1h-1zM575 216h4v1h-4zM619 216h3v1h-3zM212 217h1v1h-1zM571 217h4v1h-4zM622 217h2v1h-2zM1099 217h2v1h-2zM213 218h1v1h-1zM567 218h4v1h-4zM624 218h3v1h-3zM1096 218h3v1h-3zM214 219h1v1h-1zM563 219h4v1h-4zM627 219h3v1h-3zM1094 219h2v1h-2zM214 220h1v1h-1zM560 220h3v1h-3zM630 220h3v1h-3zM1090 220h4v1h-4zM215 221h1v1h-1zM558 221h2v1h-2zM633 221h2v1h-2zM1086 221h4v1h-4zM216 222h1v1h-1zM555 222h3v1h-3zM635 222h3v1h-3zM1082 222h4v1h-4zM216 223h1v1h-1zM553 223h2v1h-2zM638 223h3v1h-3zM1078 223h4v1h-4zM217 224h1v1h-1zM550 224h3v1h-3zM641 224h3v1h-3zM1074 224h4v1h-4zM218 225h1v1h-1zM548 225h2v1h-2zM644 225h3v1h-3zM1070 225h4v1h-4zM219 226h1v1h-1zM546 226h2v1h-2zM647 226h4v1h-4zM1067 226h3v1h-3zM219 227h1v1h-1zM543 227h3v1h-3zM651 227h4v1h-4zM1065 227h2v1h-2zM220 228h1v1h-1zM541 228h2v1h-2zM655 228h4v1h-4zM1063 228h2v1h-2zM221 229h1v1h-1zM539 229h2v1h-2zM659 229h4v1h-4zM1060 229h3v1h-3zM222 230h1v1h-1zM537 230h2v1h-2zM663 230h4v1h-4zM1058 230h2v1h-2zM223 231h1v1h-1zM535 231h2v1h-2zM667 231h4v1h-4zM1056 231h2v1h-2zM223 232h1v1h-1zM534 232h1v1h-1zM671 232h4v1h-4zM1053 232h3v1h-3zM224 233h1v1h-1zM532 233h2v1h-2zM675 233h4v1h-4zM1051 233h2v1h-2zM225 234h1v1h-1zM530 234h2v1h-2zM679 234h4v1h-4zM1049 234h2v1h-2zM226 235h1v1h-1zM529 235h1v1h-1zM683 235h4v1h-4zM1046 235h3v1h-3zM227 236h1v1h-1zM527 236h2v1h-2zM687 236h2v1h-2zM1044 236h2v1h-2zM228 237h1v1h-1zM526 237h1v1h-1zM689 237h2v1h-2zM1042 237h2v1h-2zM229 238h1v1h-1zM524 238h2v1h-2zM691 238h3v1h-3zM1040 238h2v1h-2zM230 239h1v1h-1zM522 239h2v1h-2zM694 239h2v1h-2zM1038 239h2v1h-2zM231 240h1v1h-1zM521 240h1v1h-1zM696 240h2v1h-2zM1036 240h2v1h-2zM232 241h1v1h-1zM519 241h2v1h-2zM698 241h2v1h-2zM1034 241h2v1h-2zM233 242h1v1h-1zM518 242h1v1h-1zM700 242h1v1h-1zM1033 242h1v1h-1zM234 243h1v1h-1zM517 243h1v1h-1zM701 243h2v1h-2zM1031 243h2v1h-2zM235 244h1v1h-1zM515 244h2v1h-2zM703 244h1v1h-1zM1029 244h2v1h-2zM236 245h1v1h-1zM514 245h1v1h-1zM704 245h2v1h-2zM1027 245h2v1h-2zM237 246h1v1h-1zM513 246h1v1h-1zM706 246h1v1h-1zM1023 246h4v1h-4zM238 247h1v1h-1zM511 247h2v1h-2zM707 247h2v1h-2zM1021 247h2v1h-2zM239 248h1v1h-1zM510 248h1v1h-1zM709 248h2v1h-2zM1019 248h2v1h-2zM239 249h1v1h-1zM509 249h1v1h-1zM711 249h2v1h-2zM1018 249h1v1h-1zM240 250h1v1h-1zM507 250h2v1h-2zM713 250h2v1h-2zM1016 250h2v1h-2zM241 251h1v1h-1zM506 251h1v1h-1zM715 251h2v1h-2zM1015 251h1v1h-1zM242 252h1v1h-1zM505 252h1v1h-1zM717 252h3v1h-3zM1013 252h2v1h-2zM243 253h1v1h-1zM503 253h2v1h-2zM720 253h2v1h-2zM1011 253h2v1h-2zM243 254h1v1h-1zM502 254h1v1h-1zM722 254h2v1h-2zM1009 254h2v1h-2zM244 255h1v1h-1zM501 255h1v1h-1zM724 255h3v1h-3zM1007 255h2v1h-2zM245 256h1v1h-1zM499 256h2v1h-2zM727 256h2v1h-2zM1004 256h3v1h-3zM246 257h1v1h-1zM498 257h1v1h-1zM729 257h2v1h-2zM1001 257h3v1h-3zM247 258h1v1h-1zM497 258h1v1h-1zM731 258h2v1h-2zM999 258h2v1h-2zM247 259h1v1h-1zM495 259h2v1h-2zM733 259h2v1h-2zM996 259h3v1h-3zM248 260h1v1h-1zM494 260h1v1h-1zM735 260h3v1h-3zM993 260h3v1h-3zM249 261h1v1h-1zM493 261h1v1h-1zM738 261h2v1h-2zM991 261h2v1h-2zM250 262h1v1h-1zM491 262h2v1h-2zM740 262h2v1h-2zM988 262h3v1h-3zM250 263h1v1h-1zM490 263h1v1h-1zM742 263h2v1h-2zM986 263h2v1h-2zM251 264h1v1h-1zM489 264h1v1h-1zM744 264h2v1h-2zM983 264h3v1h-3zM252 265h1v1h-1zM487 265h2v1h-2zM746 265h2v1h-2zM981 265h2v1h-2zM253 266h1v1h-1zM486 266h1v1h-1zM748 266h2v1h-2zM979 266h2v1h-2zM254 267h1v1h-1zM485 267h1v1h-1zM750 267h2v1h-2zM976 267h3v1h-3zM254 268h1v1h-1zM483 268h2v1h-2zM752 268h1v1h-1zM973 268h3v1h-3zM255 269h1v1h-1zM482 269h1v1h-1zM753 269h2v1h-2zM971 269h2v1h-2zM256 270h1v1h-1zM480 270h2v1h-2zM755 270h2v1h-2zM968 270h3v1h-3zM257 271h1v1h-1zM479 271h1v1h-1zM757 271h2v1h-2zM965 271h3v1h-3zM258 272h1v1h-1zM477 272h2v1h-2zM759 272h2v1h-2zM963 272h2v1h-2zM259 273h1v1h-1zM475 273h2v1h-2zM761 273h2v1h-2zM959 273h4v1h-4zM260 274h1v1h-1zM474 274h1v1h-1zM763 274h2v1h-2zM955 274h4v1h-4zM261 275h1v1h-1zM472 275h2v1h-2zM765 275h2v1h-2zM951 275h4v1h-4zM262 276h1v1h-1zM471 276h1v1h-1zM767 276h3v1h-3zM947 276h4v1h-4zM263 277h1v1h-1zM469 277h2v1h-2zM770 277h2v1h-2zM941 277h6v1h-6zM264 278h1v1h-1zM468 278h1v1h-1zM772 278h2v1h-2zM936 278h5v1h-5zM265 279h1v1h-1zM466 279h2v1h-2zM774 279h3v1h-3zM929 279h7v1h-7zM265 280h1v1h-1zM464 280h2v1h-2zM777 280h3v1h-3zM920 280h9v1h-9zM266 281h1v1h-1zM461 281h3v1h-3zM780 281h2v1h-2zM914 281h6v1h-6zM267 282h1v1h-1zM459 282h2v1h-2zM782 282h3v1h-3zM912 282h2v1h-2zM268 283h1v1h-1zM456 283h3v1h-3zM785 283h3v1h-3zM910 283h2v1h-2zM269 284h1v1h-1zM454 284h2v1h-2zM788 284h3v1h-3zM907 284h3v1h-3zM270 285h1v1h-1zM452 285h2v1h-2zM791 285h3v1h-3zM905 285h2v1h-2zM271 286h1v1h-1zM450 286h2v1h-2zM794 286h3v1h-3zM903 286h2v1h-2zM272 287h1v1h-1zM448 287h2v1h-2zM797 287h4v1h-4zM898 287h5v1h-5zM273 288h1v1h-1zM446 288h2v1h-2zM801 288h3v1h-3zM892 288h6v1h-6zM274 289h1v1h-1zM444 289h2v1h-2zM804 289h3v1h-3zM885 289h7v1h-7zM275 290h1v1h-1zM442 290h2v1h-2zM807 290h3v1h-3zM877 290h8v1h-8zM276 291h1v1h-1zM440 291h2v1h-2zM810 291h3v1h-3zM869 291h8v1h-8zM277 292h1v1h-1zM438 292h2v1h-2zM813 292h3v1h-3zM861 292h8v1h-8zM278 293h1v1h-1zM437 293h1v1h-1zM816 293h4v1h-4zM853 293h8v1h-8zM279 294h1v1h-1zM435 294h2v1h-2zM820 294h6v1h-6zM845 294h8v1h-8zM280 295h1v1h-1zM434 295h1v1h-1zM826 295h19v1h-19zM280 296h1v1h-1zM433 296h1v1h-1zM281 297h1v1h-1zM431 297h2v1h-2zM282 298h1v1h-1zM430 298h1v1h-1zM283 299h1v1h-1zM429 299h1v1h-1zM284 300h1v1h-1zM427 300h2v1h-2zM285 301h1v1h-1zM426 301h1v1h-1zM286 302h1v1h-1zM425 302h1v1h-1zM287 303h1v1h-1zM423 303h2v1h-2zM288 304h1v1h-1zM422 304h1v1h-1zM289 305h1v1h-1zM421 305h1v1h-1zM290 306h1v1h-1zM419 306h2v1h-2zM291 307h1v1h-1zM418 307h1v1h-1zM291 308h1v1h-1zM417 308h1v1h-1zM292 309h1v1h-1zM416 309h1v1h-1zM293 310h1v1h-1zM414 310h2v1h-2zM294 311h1v1h-1zM413 311h1v1h-1zM295 312h1v1h-1zM412 312h1v1h-1zM296 313h1v1h-1zM411 313h1v1h-1zM297 314h1v1h-1zM410 314h1v1h-1zM298 315h1v1h-1zM408 315h2v1h-2zM299 316h1v1h-1zM407 316h1v1h-1zM300 317h1v1h-1zM406 317h1v1h-1zM301 318h2v1h-2zM404 318h2v1h-2zM303 319h1v1h-1zM402 319h2v1h-2zM304 320h1v1h-1zM400 320h2v1h-2zM305 321h1v1h-1zM398 321h2v1h-2zM306 322h2v1h-2zM396 322h2v1h-2zM308 323h2v1h-2zM394 323h2v1h-2zM310 324h2v1h-2zM392 324h2v1h-2zM312 325h2v1h-2zM390 325h2v1h-2zM314 326h2v1h-2zM387 326h3v1h-3zM316 327h4v1h-4zM384 327h3v1h-3zM320 328h5v1h-5zM382 328h2v1h-2zM325 329h5v1h-5zM379 329h3v1h-3zM330 330h5v1h-5zM367 330h12v1h-12zM335 331h32v1h-32z" fill="#f0f0f0"/>
<path d="M205 22h1v1h-1zM204 23h1v1h-1zM206 23h2v1h-2zM158 24h7v1h-7zM203 24h1v1h-1zM208 24h2v1h-2zM153 25h5v1h-5zM165 25h10v1h-10zM201 25h2v1h-2zM210 25h2v1h-2zM149 26h4v1h-4zM175 26h7v1h-7zM200 26h1v1h-1zM212 26h2v1h-2zM147 27h2v1h-2zM182 27h3v1h-3zM199 27h1v1h-1zM214 27h1v1h-1zM145 28h2v1h-2zM185 28h4v1h-4zM194 28h5v1h-5zM215 28h1v1h-1zM131 29h6v1h-6zM143 29h2v1h-2zM189 29h5v1h-5zM216 29h1v1h-1zM127 30h4v1h-4zM137 30h6v1h-6zM217 30h1v1h-1zM125 31h2v1h-2zM218 31h2v1h-2zM123 32h2v1h-2zM220 32h1v1h-1zM121 33h2v1h-2zM221 33h1v1h-1zM119 34h2v1h-2zM222 34h1v1h-1zM117 35h2v1h-2zM223 35h1v1h-1zM116 36h1v1h-1zM224 36h1v1h-1zM115 37h1v1h-1zM224 37h1v1h-1zM114 38h1v1h-1zM225 38h1v1h-1zM113 39h1v1h-1zM226 39h1v1h-1zM113 40h1v1h-1zM226 40h1v1h-1zM112 41h1v1h-1zM227 41h1v1h-1zM111 42h1v1h-1zM228 42h1v1h-1zM110 43h1v1h-1zM228 43h1v1h-1zM108 44h2v1h-2zM229 44h1v1h-1zM107 45h1v1h-1zM230 45h1v1h-1zM105 46h2v1h-2zM230 46h1v1h-1zM104 47h1v1h-1zM231 47h1v1h-1zM102 48h2v1h-2zM232 48h1v1h-1zM92 49h10v1h-10zM232 49h1v1h-1zM233 50h1v1h-1zM233 51h1v1h-1zM234 52h1v1h-1zM234 53h1v1h-1zM235 54h1v1h-1zM235 55h1v1h-1zM236 56h1v1h-1zM236 57h1v1h-1zM237 58h1v1h-1zM237 59h1v1h-1zM238 60h1v1h-1zM238 61h1v1h-1zM239 62h1v1h-1zM239 63h1v1h-1zM240 64h1v1h-1zM240 65h1v1h-1zM241 66h1v1h-1zM241 67h1v1h-1zM242 68h1v1h-1zM242 69h1v1h-1zM243 70h1v1h-1zM243 71h1v1h-1zM244 72h1v1h-1zM244 73h1v1h-1zM245 74h1v1h-1zM245 75h1v1h-1zM246 76h1v1h-1zM246 77h1v1h-1zM247 78h1v1h-1zM247 79h1v1h-1zM248 80h1v1h-1zM248 81h1v1h-1zM249 82h1v1h-1zM249 83h1v1h-1zM250 84h1v1h-1zM250 85h1v1h-1zM251 86h1v1h-1zM251 87h1v1h-1zM252 88h1v1h-1zM252 89h1v1h-1zM253 90h1v1h-1zM253 91h1v1h-1zM254 92h1v1h-1zM254 93h1v1h-1zM255 94h1v1h-1zM255 95h1v1h-1zM256 96h1v1h-1zM257 97h1v1h-1zM257 98h1v1h-1zM258 99h1v1h-1zM258 100h1v1h-1zM259 101h1v1h-1zM260 102h1v1h-1zM260 103h1v1h-1zM261 104h1v1h-1zM261 105h1v1h-1zM262 106h1v1h-1zM262 107h1v1h-1zM263 108h1v1h-1zM264 109h1v1h-1zM264 110h1v1h-1zM265 111h1v1h-1zM265 112h1v1h-1zM266 113h1v1h-1zM266 114h1v1h-1zM267 115h1v1h-1zM267 116h1v1h-1zM268 117h1v1h-1zM268 118h1v1h-1zM269 119h1v1h-1zM269 120h1v1h-1zM270 121h1v1h-1zM270 122h1v1h-1zM271 123h1v1h-1zM271 124h1v1h-1zM272 125h1v1h-1zM272 126h1v1h-1zM273 127h1v1h-1zM273 128h1v1h-1zM274 129h1v1h-1zM274 130h1v1h-1zM275 131h1v1h-1zM275 132h1v1h-1zM276 133h1v1h-1zM276 134h1v1h-1zM277 135h1v1h-1zM277 136h1v1h-1zM278 137h1v1h-1zM278 138h1v1h-1zM279 139h1v1h-1zM279 140h1v1h-1zM280 141h1v1h-1zM280 142h1v1h-1zM281 143h1v1h-1zM281 144h1v1h-1zM281 145h1v1h-1zM282 146h1v1h-1zM282 147h1v1h-1zM679 147h13v1h-13zM698 147h12v1h-12zM282 148h1v1h-1zM674 148h5v1h-5zM692 148h6v1h-6zM710 148h2v1h-2zM283 149h1v1h-1zM670 149h4v1h-4zM712 149h2v1h-2zM283 150h1v1h-1zM667 150h3v1h-3zM714 150h1v1h-1zM284 151h1v1h-1zM664 151h3v1h-3zM715 151h2v1h-2zM284 152h1v1h-1zM660 152h4v1h-4zM717 152h1v1h-1zM284 153h1v1h-1zM657 153h3v1h-3zM718 153h2v1h-2zM285 154h1v1h-1zM654 154h3v1h-3zM720 154h2v1h-2zM285 155h1v1h-1zM652 155h2v1h-2zM722 155h1v1h-1zM1064 155h13v1h-13zM285 156h1v1h-1zM649 156h3v1h-3zM723 156h2v1h-2zM1060 156h4v1h-4zM1077 156h6v1h-6zM286 157h1v1h-1zM647 157h2v1h-2zM725 157h1v1h-1zM1056 157h4v1h-4zM1083 157h18v1h-18zM286 158h1v1h-1zM644 158h3v1h-3zM726 158h2v1h-2zM1052 158h4v1h-4zM286 159h1v1h-1zM642 159h2v1h-2zM728 159h2v1h-2zM1049 159h3v1h-3zM287 160h1v1h-1zM640 160h2v1h-2zM730 160h2v1h-2zM1047 160h2v1h-2zM287 161h1v1h-1zM638 161h2v1h-2zM732 161h2v1h-2zM1045 161h2v1h-2zM287 162h1v1h-1zM637 162h1v1h-1zM734 162h2v1h-2zM1043 162h2v1h-2zM288 163h1v1h-1zM635 163h2v1h-2zM736 163h1v1h-1zM1041 163h2v1h-2zM288 164h1v1h-1zM633 164h2v1h-2zM737 164h1v1h-1zM1040 164h1v1h-1zM289 165h1v1h-1zM632 165h1v1h-1zM738 165h2v1h-2zM1038 165h2v1h-2zM289 166h1v1h-1zM630 166h2v1h-2zM740 166h1v1h-1zM1037 166h1v1h-1zM289 167h1v1h-1zM488 167h11v1h-11zM629 167h1v1h-1zM741 167h1v1h-1zM1035 167h2v1h-2zM290 168h1v1h-1zM484 168h4v1h-4zM499 168h2v1h-2zM627 168h2v1h-2zM742 168h1v1h-1zM1034 168h1v1h-1zM290 169h1v1h-1zM481 169h3v1h-3zM501 169h2v1h-2zM625 169h2v1h-2zM743 169h1v1h-1zM1033 169h1v1h-1zM290 170h1v1h-1zM468 170h5v1h-5zM479 170h2v1h-2zM503 170h2v1h-2zM516 170h3v1h-3zM624 170h1v1h-1zM744 170h1v1h-1zM1031 170h2v1h-2zM291 171h1v1h-1zM465 171h3v1h-3zM473 171h6v1h-6zM505 171h2v1h-2zM514 171h2v1h-2zM519 171h4v1h-4zM622 171h2v1h-2zM744 171h1v1h-1zM1030 171h1v1h-1zM291 172h1v1h-1zM463 172h2v1h-2zM507 172h2v1h-2zM512 172h2v1h-2zM523 172h5v1h-5zM621 172h1v1h-1zM745 172h1v1h-1zM1029 172h1v1h-1zM291 173h1v1h-1zM459 173h4v1h-4zM509 173h3v1h-3zM528 173h4v1h-4zM552 173h20v1h-20zM619 173h2v1h-2zM746 173h1v1h-1zM1027 173h2v1h-2zM292 174h1v1h-1zM455 174h4v1h-4zM532 174h4v1h-4zM546 174h6v1h-6zM572 174h2v1h-2zM617 174h2v1h-2zM747 174h1v1h-1zM1026 174h1v1h-1zM292 175h1v1h-1zM452 175h3v1h-3zM536 175h10v1h-10zM574 175h2v1h-2zM615 175h2v1h-2zM747 175h1v1h-1zM1025 175h1v1h-1zM292 176h1v1h-1zM449 176h3v1h-3zM576 176h2v1h-2zM613 176h2v1h-2zM748 176h1v1h-1zM1024 176h1v1h-1zM292 177h1v1h-1zM447 177h2v1h-2zM578 177h2v1h-2zM610 177h3v1h-3zM749 177h1v1h-1zM1022 177h2v1h-2zM293 178h1v1h-1zM444 178h3v1h-3zM580 178h30v1h-30zM750 178h1v1h-1zM1021 178h1v1h-1zM293 179h1v1h-1zM441 179h3v1h-3zM751 179h1v1h-1zM1020 179h1v1h-1zM293 180h1v1h-1zM439 180h2v1h-2zM752 180h1v1h-1zM1019 180h1v1h-1zM293 181h1v1h-1zM437 181h2v1h-2zM753 181h1v1h-1zM1018 181h1v1h-1zM294 182h1v1h-1zM435 182h2v1h-2zM753 182h1v1h-1zM1017 182h1v1h-1zM294 183h1v1h-1zM433 183h2v1h-2zM754 183h1v1h-1zM1015 183h2v1h-2zM294 184h1v1h-1zM432 184h1v1h-1zM755 184h1v1h-1zM1014 184h1v1h-1zM295 185h1v1h-1zM430 185h2v1h-2zM756 185h1v1h-1zM1013 185h1v1h-1zM295 186h1v1h-1zM429 186h1v1h-1zM757 186h1v1h-1zM1012 186h1v1h-1zM295 187h1v1h-1zM428 187h1v1h-1zM758 187h1v1h-1zM1011 187h1v1h-1zM295 188h1v1h-1zM427 188h1v1h-1zM758 188h1v1h-1zM1010 188h1v1h-1zM296 189h1v1h-1zM425 189h2v1h-2zM759 189h1v1h-1zM1009 189h1v1h-1zM296 190h1v1h-1zM424 190h1v1h-1zM760 190h1v1h-1zM1008 190h1v1h-1zM296 191h1v1h-1zM423 191h1v1h-1zM761 191h1v1h-1zM1008 191h1v1h-1zM296 192h1v1h-1zM422 192h1v1h-1zM761 192h1v1h-1zM1007 192h1v1h-1zM297 193h1v1h-1zM421 193h1v1h-1zM762 193h1v1h-1zM1006 193h1v1h-1zM297 194h1v1h-1zM420 194h1v1h-1zM763 194h1v1h-1zM1005 194h1v1h-1zM297 195h1v1h-1zM419 195h1v1h-1zM764 195h1v1h-1zM1004 195h1v1h-1zM298 196h1v1h-1zM418 196h1v1h-1zM764 196h1v1h-1zM1003 196h1v1h-1zM298 197h1v1h-1zM417 197h1v1h-1zM765 197h1v1h-1zM1003 197h1v1h-1zM298 198h1v1h-1zM416 198h1v1h-1zM766 198h1v1h-1zM1002 198h1v1h-1zM298 199h1v1h-1zM415 199h1v1h-1zM767 199h1v1h-1zM1001 199h1v1h-1zM299 200h1v1h-1zM413 200h2v1h-2zM767 200h1v1h-1zM1000 200h1v1h-1zM299 201h1v1h-1zM411 201h2v1h-2zM768 201h1v1h-1zM998 201h2v1h-2zM299 202h1v1h-1zM410 202h1v1h-1zM769 202h1v1h-1zM996 202h2v1h-2zM300 203h1v1h-1zM408 203h2v1h-2zM770 203h1v1h-1zM995 203h1v1h-1zM300 204h1v1h-1zM407 204h1v1h-1zM770 204h1v1h-1zM993 204h2v1h-2zM300 205h1v1h-1zM406 205h1v1h-1zM771 205h1v1h-1zM991 205h2v1h-2zM300 206h1v1h-1zM405 206h1v1h-1zM772 206h1v1h-1zM990 206h1v1h-1zM301 207h1v1h-1zM404 207h1v1h-1zM773 207h1v1h-1zM989 207h1v1h-1zM301 208h1v1h-1zM403 208h1v1h-1zM773 208h1v1h-1zM988 208h1v1h-1zM301 209h1v1h-1zM402 209h1v1h-1zM774 209h1v1h-1zM987 209h1v1h-1zM301 210h1v1h-1zM401 210h1v1h-1zM775 210h1v1h-1zM986 210h1v1h-1zM302 211h1v1h-1zM400 211h1v1h-1zM776 211h1v1h-1zM986 211h1v1h-1zM302 212h1v1h-1zM399 212h1v1h-1zM777 212h1v1h-1zM985 212h1v1h-1zM303 213h1v1h-1zM398 213h1v1h-1zM778 213h1v1h-1zM984 213h1v1h-1zM303 214h1v1h-1zM398 214h1v1h-1zM778 214h1v1h-1zM983 214h1v1h-1zM304 215h1v1h-1zM397 215h1v1h-1zM779 215h1v1h-1zM982 215h1v1h-1zM304 216h1v1h-1zM397 216h1v1h-1zM780 216h1v1h-1zM981 216h1v1h-1zM305 217h1v1h-1zM396 217h1v1h-1zM781 217h1v1h-1zM980 217h1v1h-1zM306 218h1v1h-1zM395 218h1v1h-1zM782 218h1v1h-1zM979 218h1v1h-1zM306 219h1v1h-1zM395 219h1v1h-1zM783 219h1v1h-1zM979 219h1v1h-1zM307 220h1v1h-1zM394 220h1v1h-1zM783 220h1v1h-1zM978 220h1v1h-1zM307 221h1v1h-1zM394 221h1v1h-1zM784 221h1v1h-1zM977 221h1v1h-1zM308 222h1v1h-1zM393 222h1v1h-1zM785 222h1v1h-1zM976 222h1v1h-1zM308 223h1v1h-1zM392 223h1v1h-1zM786 223h1v1h-1zM975 223h1v1h-1zM309 224h1v1h-1zM392 224h1v1h-1zM787 224h1v1h-1zM974 224h1v1h-1zM309 225h1v1h-1zM391 225h1v1h-1zM787 225h1v1h-1zM974 225h1v1h-1zM310 226h1v1h-1zM391 226h1v1h-1zM788 226h1v1h-1zM973 226h1v1h-1zM310 227h1v1h-1zM390 227h1v1h-1zM789 227h1v1h-1zM972 227h1v1h-1zM311 228h1v1h-1zM390 228h1v1h-1zM790 228h1v1h-1zM971 228h1v1h-1zM311 229h1v1h-1zM389 229h1v1h-1zM790 229h1v1h-1zM970 229h1v1h-1zM312 230h1v1h-1zM388 230h1v1h-1zM791 230h1v1h-1zM969 230h1v1h-1zM312 231h1v1h-1zM388 231h1v1h-1zM792 231h1v1h-1zM969 231h1v1h-1zM313 232h1v1h-1zM387 232h1v1h-1zM793 232h1v1h-1zM968 232h1v1h-1zM314 233h1v1h-1zM387 233h1v1h-1zM793 233h1v1h-1zM967 233h1v1h-1zM315 234h1v1h-1zM386 234h1v1h-1zM794 234h1v1h-1zM966 234h1v1h-1zM316 235h1v1h-1zM386 235h1v1h-1zM795 235h1v1h-1zM965 235h1v1h-1zM317 236h1v1h-1zM385 236h1v1h-1zM796 236h1v1h-1zM964 236h1v1h-1zM318 237h1v1h-1zM384 237h1v1h-1zM797 237h1v1h-1zM964 237h1v1h-1zM319 238h2v1h-2zM383 238h1v1h-1zM798 238h1v1h-1zM963 238h1v1h-1zM321 239h1v1h-1zM382 239h1v1h-1zM798 239h1v1h-1zM962 239h1v1h-1zM322 240h1v1h-1zM381 240h1v1h-1zM799 240h1v1h-1zM960 240h2v1h-2zM323 241h1v1h-1zM379 241h2v1h-2zM800 241h1v1h-1zM958 241h2v1h-2zM324 242h1v1h-1zM378 242h1v1h-1zM801 242h1v1h-1zM956 242h2v1h-2zM325 243h2v1h-2zM377 243h1v1h-1zM802 243h1v1h-1zM954 243h2v1h-2zM327 244h3v1h-3zM376 244h1v1h-1zM803 244h1v1h-1zM952 244h2v1h-2zM330 245h2v1h-2zM375 245h1v1h-1zM803 245h1v1h-1zM950 245h2v1h-2zM332 246h3v1h-3zM369 246h6v1h-6zM804 246h1v1h-1zM947 246h3v1h-3zM335 247h3v1h-3zM360 247h9v1h-9zM805 247h1v1h-1zM943 247h4v1h-4zM338 248h7v1h-7zM354 248h6v1h-6zM806 248h1v1h-1zM939 248h4v1h-4zM345 249h9v1h-9zM806 249h1v1h-1zM935 249h4v1h-4zM807 250h1v1h-1zM929 250h6v1h-6zM808 251h1v1h-1zM921 251h8v1h-8zM808 252h1v1h-1zM914 252h7v1h-7zM809 253h1v1h-1zM908 253h6v1h-6zM810 254h1v1h-1zM904 254h4v1h-4zM810 255h1v1h-1zM901 255h3v1h-3zM811 256h1v1h-1zM898 256h3v1h-3zM812 257h1v1h-1zM895 257h3v1h-3zM812 258h1v1h-1zM893 258h2v1h-2zM813 259h1v1h-1zM890 259h3v1h-3zM814 260h1v1h-1zM887 260h3v1h-3zM815 261h1v1h-1zM883 261h4v1h-4zM816 262h1v1h-1zM878 262h5v1h-5zM817 263h1v1h-1zM873 263h5v1h-5zM817 264h1v1h-1zM868 264h5v1h-5zM818 265h1v1h-1zM863 265h5v1h-5zM819 266h1v1h-1zM859 266h4v1h-4zM820 267h1v1h-1zM855 267h4v1h-4zM821 268h2v1h-2zM851 268h4v1h-4zM823 269h3v1h-3zM847 269h4v1h-4zM826 270h21v1h-21z" fill="#d8d820"/>
<path d="M93 163h1v1h-1zM94 164h1v1h-1zM94 165h1v1h-1zM95 166h1v1h-1zM96 167h1v1h-1zM96 168h1v1h-1zM97 169h1v1h-1zM97 170h1v1h-1zM98 171h1v1h-1zM99 172h1v1h-1zM99 173h1v1h-1zM100 174h1v1h-1zM101 175h1v1h-1zM101 176h1v1h-1zM102 177h1v1h-1zM102 178h1v1h-1zM103 179h1v1h-1zM104 180h1v1h-1zM104 181h1v1h-1zM105 182h1v1h-1zM105 183h1v1h-1zM106 184h1v1h-1zM106 185h1v1h-1zM106 186h1v1h-1zM107 187h1v1h-1zM107 188h1v1h-1zM108 189h1v1h-1zM108 190h1v1h-1zM108 191h1v1h-1zM109 192h1v1h-1zM109 193h1v1h-1zM109 194h1v1h-1zM110 195h1v1h-1zM110 196h1v1h-1zM110 197h1v1h-1zM111 198h1v1h-1zM111 199h1v1h-1zM112 200h1v1h-1zM112 201h1v1h-1zM112 202h1v1h-1zM113 203h1v1h-1zM113 204h1v1h-1zM113 205h1v1h-1zM114 206h1v1h-1zM114 207h1v1h-1zM114 208h1v1h-1zM115 209h1v1h-1zM115 210h1v1h-1zM116 211h1v1h-1zM116 212h1v1h-1zM116 213h1v1h-1zM117 214h1v1h-1zM117 215h1v1h-1zM117 216h1v1h-1zM118 217h1v1h-1zM118 218h1v1h-1zM118 219h1v1h-1zM119 220h1v1h-1zM119 221h1v1h-1zM119 222h1v1h-1zM120 223h1v1h-1zM120 224h1v1h-1zM121 225h1v1h-1zM121 226h1v1h-1zM121 227h1v1h-1zM122 228h1v1h-1zM122 229h1v1h-1zM122 230h1v1h-1zM123 231h1v1h-1zM123 232h1v1h-1zM124 233h1v1h-1zM124 234h1v1h-1zM125 235h1v1h-1zM125 236h1v1h-1zM126 237h1v1h-1zM126 238h1v1h-1zM127 239h1v1h-1zM127 240h1v1h-1zM128 241h1v1h-1zM128 242h1v1h-1zM129 243h1v1h-1zM129 244h1v1h-1zM130 245h1v1h-1zM130 246h1v1h-1zM131 247h1v1h-1zM131 248h1v1h-1zM132 249h1v1h-1zM132 250h1v1h-1zM588 250h16v1h-16zM133 251h1v1h-1zM584 251h4v1h-4zM604 251h6v1h-6zM133 252h1v1h-1zM582 252h2v1h-2zM610 252h4v1h-4zM134 253h1v1h-1zM581 253h1v1h-1zM614 253h1v1h-1zM134 254h1v1h-1zM580 254h1v1h-1zM615 254h1v1h-1zM135 255h1v1h-1zM579 255h1v1h-1zM616 255h1v1h-1zM135 256h1v1h-1zM578 256h1v1h-1zM617 256h1v1h-1zM136 257h1v1h-1zM577 257h1v1h-1zM618 257h1v1h-1zM136 258h1v1h-1zM576 258h1v1h-1zM619 258h1v1h-1zM137 259h1v1h-1zM575 259h1v1h-1zM620 259h1v1h-1zM137 260h1v1h-1zM574 260h1v1h-1zM620 260h1v1h-1zM138 261h1v1h-1zM573 261h1v1h-1zM621 261h1v1h-1zM138 262h1v1h-1zM571 262h2v1h-2zM622 262h1v1h-1zM139 263h1v1h-1zM569 263h2v1h-2zM622 263h1v1h-1zM139 264h1v1h-1zM568 264h1v1h-1zM623 264h1v1h-1zM140 265h1v1h-1zM566 265h2v1h-2zM624 265h1v1h-1zM140 266h1v1h-1zM564 266h2v1h-2zM624 266h1v1h-1zM141 267h1v1h-1zM563 267h1v1h-1zM625 267h1v1h-1zM141 268h1v1h-1zM561 268h2v1h-2zM626 268h1v1h-1zM142 269h1v1h-1zM560 269h1v1h-1zM626 269h1v1h-1zM142 270h1v1h-1zM558 270h2v1h-2zM627 270h1v1h-1zM143 271h1v1h-1zM557 271h1v1h-1zM628 271h1v1h-1zM143 272h1v1h-1zM555 272h2v1h-2zM629 272h1v1h-1zM144 273h1v1h-1zM554 273h1v1h-1zM630 273h1v1h-1zM144 274h1v1h-1zM552 274h2v1h-2zM630 274h1v1h-1zM145 275h1v1h-1zM551 275h1v1h-1zM631 275h1v1h-1zM145 276h1v1h-1zM550 276h1v1h-1zM632 276h1v1h-1zM146 277h1v1h-1zM549 277h1v1h-1zM633 277h1v1h-1zM146 278h1v1h-1zM548 278h1v1h-1zM634 278h1v1h-1zM147 279h1v1h-1zM547 279h1v1h-1zM635 279h1v1h-1zM1100 279h1v1h-1zM148 280h1v1h-1zM545 280h2v1h-2zM636 280h1v1h-1zM1098 280h2v1h-2zM148 281h1v1h-1zM544 281h1v1h-1zM636 281h1v1h-1zM1097 281h1v1h-1zM149 282h1v1h-1zM543 282h1v1h-1zM637 282h1v1h-1zM1095 282h2v1h-2zM149 283h1v1h-1zM542 283h1v1h-1zM638 283h1v1h-1zM1094 283h1v1h-1zM150 284h1v1h-1zM541 284h1v1h-1zM639 284h1v1h-1zM1092 284h2v1h-2zM151 285h1v1h-1zM540 285h1v1h-1zM640 285h1v1h-1zM1090 285h2v1h-2zM151 286h1v1h-1zM539 286h1v1h-1zM641 286h1v1h-1zM1089 286h1v1h-1zM152 287h1v1h-1zM538 287h1v1h-1zM642 287h1v1h-1zM1087 287h2v1h-2zM153 288h1v1h-1zM537 288h1v1h-1zM643 288h1v1h-1zM1086 288h1v1h-1zM153 289h1v1h-1zM537 289h1v1h-1zM644 289h1v1h-1zM1084 289h2v1h-2zM154 290h1v1h-1zM536 290h1v1h-1zM645 290h2v1h-2zM1082 290h2v1h-2zM155 291h1v1h-1zM535 291h1v1h-1zM647 291h1v1h-1zM1080 291h2v1h-2zM155 292h1v1h-1zM534 292h1v1h-1zM648 292h1v1h-1zM1078 292h2v1h-2zM156 293h1v1h-1zM534 293h1v1h-1zM649 293h1v1h-1zM1076 293h2v1h-2zM156 294h1v1h-1zM533 294h1v1h-1zM650 294h1v1h-1zM1074 294h2v1h-2zM157 295h1v1h-1zM532 295h1v1h-1zM651 295h1v1h-1zM1072 295h2v1h-2zM158 296h1v1h-1zM531 296h1v1h-1zM652 296h1v1h-1zM1070 296h2v1h-2zM158 297h1v1h-1zM530 297h1v1h-1zM653 297h1v1h-1zM1068 297h2v1h-2zM159 298h1v1h-1zM530 298h1v1h-1zM654 298h2v1h-2zM1066 298h2v1h-2zM160 299h1v1h-1zM529 299h1v1h-1zM656 299h1v1h-1zM1064 299h2v1h-2zM160 300h1v1h-1zM528 300h1v1h-1zM657 300h1v1h-1zM1062 300h2v1h-2zM161 301h1v1h-1zM527 301h1v1h-1zM658 301h1v1h-1zM1060 301h2v1h-2zM162 302h1v1h-1zM527 302h1v1h-1zM659 302h1v1h-1zM1058 302h2v1h-2zM163 303h1v1h-1zM526 303h1v1h-1zM660 303h2v1h-2zM1056 303h2v1h-2zM163 304h1v1h-1zM525 304h1v1h-1zM662 304h1v1h-1zM1054 304h2v1h-2zM164 305h1v1h-1zM525 305h1v1h-1zM663 305h1v1h-1zM1052 305h2v1h-2zM165 306h1v1h-1zM524 306h1v1h-1zM664 306h1v1h-1zM946 306h7v1h-7zM1050 306h2v1h-2zM165 307h1v1h-1zM524 307h1v1h-1zM665 307h1v1h-1zM938 307h8v1h-8zM953 307h7v1h-7zM1048 307h2v1h-2zM166 308h1v1h-1zM523 308h1v1h-1zM666 308h2v1h-2zM931 308h7v1h-7zM960 308h7v1h-7zM1046 308h2v1h-2zM167 309h1v1h-1zM522 309h1v1h-1zM668 309h1v1h-1zM925 309h6v1h-6zM967 309h5v1h-5zM1044 309h2v1h-2zM167 310h1v1h-1zM522 310h1v1h-1zM669 310h1v1h-1zM919 310h6v1h-6zM972 310h2v1h-2zM1042 310h2v1h-2zM168 311h1v1h-1zM521 311h1v1h-1zM670 311h1v1h-1zM915 311h4v1h-4zM974 311h2v1h-2zM1040 311h2v1h-2zM169 312h1v1h-1zM520 312h1v1h-1zM671 312h1v1h-1zM913 312h2v1h-2zM976 312h2v1h-2zM1038 312h2v1h-2zM170 313h1v1h-1zM520 313h1v1h-1zM672 313h1v1h-1zM910 313h3v1h-3zM978 313h2v1h-2zM1036 313h2v1h-2zM170 314h1v1h-1zM519 314h1v1h-1zM673 314h2v1h-2zM908 314h2v1h-2zM980 314h2v1h-2zM1034 314h2v1h-2zM171 315h1v1h-1zM518 315h1v1h-1zM675 315h1v1h-1zM905 315h3v1h-3zM982 315h4v1h-4zM1031 315h3v1h-3zM172 316h1v1h-1zM517 316h1v1h-1zM676 316h1v1h-1zM903 316h2v1h-2zM986 316h6v1h-6zM1027 316h4v1h-4zM172 317h1v1h-1zM516 317h1v1h-1zM677 317h1v1h-1zM900 317h3v1h-3zM992 317h6v1h-6zM1023 317h4v1h-4zM173 318h1v1h-1zM515 318h1v1h-1zM678 318h1v1h-1zM821 318h60v1h-60zM898 318h2v1h-2zM998 318h6v1h-6zM1019 318h4v1h-4zM174 319h1v1h-1zM514 319h1v1h-1zM679 319h2v1h-2zM820 319h1v1h-1zM881 319h17v1h-17zM1004 319h6v1h-6zM1015 319h4v1h-4zM174 320h1v1h-1zM513 320h1v1h-1zM681 320h1v1h-1zM818 320h2v1h-2zM1010 320h5v1h-5zM175 321h1v1h-1zM512 321h1v1h-1zM682 321h1v1h-1zM817 321h1v1h-1zM176 322h1v1h-1zM511 322h1v1h-1zM683 322h1v1h-1zM816 322h1v1h-1zM176 323h1v1h-1zM510 323h1v1h-1zM684 323h1v1h-1zM815 323h1v1h-1zM177 324h1v1h-1zM510 324h1v1h-1zM685 324h2v1h-2zM813 324h2v1h-2zM178 325h1v1h-1zM509 325h1v1h-1zM687 325h1v1h-1zM812 325h1v1h-1zM178 326h1v1h-1zM509 326h1v1h-1zM688 326h1v1h-1zM811 326h1v1h-1zM179 327h1v1h-1zM508 327h1v1h-1zM689 327h1v1h-1zM810 327h1v1h-1zM180 328h1v1h-1zM508 328h1v1h-1zM690 328h2v1h-2zM809 328h1v1h-1zM180 329h1v1h-1zM507 329h1v1h-1zM692 329h1v1h-1zM807 329h2v1h-2zM181 330h1v1h-1zM507 330h1v1h-1zM693 330h1v1h-1zM806 330h1v1h-1zM182 331h1v1h-1zM506 331h1v1h-1zM694 331h1v1h-1zM805 331h1v1h-1zM182 332h1v1h-1zM506 332h1v1h-1zM695 332h1v1h-1zM803 332h2v1h-2zM183 333h1v1h-1zM505 333h1v1h-1zM695 333h1v1h-1zM802 333h1v1h-1zM184 334h1v1h-1zM505 334h1v1h-1zM696 334h1v1h-1zM801 334h1v1h-1zM184 335h1v1h-1zM504 335h1v1h-1zM697 335h1v1h-1zM799 335h2v1h-2zM185 336h1v1h-1zM504 336h1v1h-1zM698 336h1v1h-1zM798 336h1v1h-1zM186 337h1v1h-1zM503 337h1v1h-1zM699 337h1v1h-1zM797 337h1v1h-1zM186 338h1v1h-1zM503 338h1v1h-1zM699 338h1v1h-1zM795 338h2v1h-2zM187 339h1v1h-1zM502 339h1v1h-1zM700 339h1v1h-1zM794 339h1v1h-1zM187 340h1v1h-1zM502 340h1v1h-1zM701 340h1v1h-1zM793 340h1v1h-1zM188 341h1v1h-1zM501 341h1v1h-1zM702 341h1v1h-1zM791 341h2v1h-2zM188 342h1v1h-1zM500 342h1v1h-1zM703 342h1v1h-1zM790 342h1v1h-1zM189 343h1v1h-1zM500 343h1v1h-1zM704 343h1v1h-1zM788 343h2v1h-2zM189 344h1v1h-1zM499 344h1v1h-1zM705 344h2v1h-2zM785 344h3v1h-3zM190 345h1v1h-1zM499 345h1v1h-1zM707 345h1v1h-1zM782 345h3v1h-3zM190 346h1v1h-1zM498 346h1v1h-1zM708 346h1v1h-1zM780 346h2v1h-2zM191 347h1v1h-1zM498 347h1v1h-1zM709 347h1v1h-1zM777 347h3v1h-3zM191 348h1v1h-1zM497 348h1v1h-1zM710 348h2v1h-2zM774 348h3v1h-3zM192 349h1v1h-1zM497 349h1v1h-1zM712 349h4v1h-4zM772 349h2v1h-2zM192 350h1v1h-1zM496 350h1v1h-1zM716 350h4v1h-4zM770 350h2v1h-2zM192 351h1v1h-1zM496 351h1v1h-1zM720 351h4v1h-4zM768 351h2v1h-2zM193 352h1v1h-1zM495 352h1v1h-1zM724 352h4v1h-4zM766 352h2v1h-2zM193 353h1v1h-1zM494 353h1v1h-1zM728 353h4v1h-4zM759 353h7v1h-7zM193 354h1v1h-1zM494 354h1v1h-1zM732 354h4v1h-4zM751 354h8v1h-8zM194 355h1v1h-1zM493 355h1v1h-1zM736 355h4v1h-4zM745 355h6v1h-6zM194 356h1v1h-1zM492 356h1v1h-1zM740 356h5v1h-5zM194 357h1v1h-1zM491 357h1v1h-1zM195 358h1v1h-1zM491 358h1v1h-1zM195 359h1v1h-1zM490 359h1v1h-1zM195 360h1v1h-1zM489 360h1v1h-1zM196 361h1v1h-1zM488 361h1v1h-1zM196 362h1v1h-1zM487 362h1v1h-1zM196 363h1v1h-1zM486 363h1v1h-1zM197 364h1v1h-1zM485 364h1v1h-1zM197 365h1v1h-1zM484 365h1v1h-1zM197 366h1v1h-1zM483 366h1v1h-1zM198 367h1v1h-1zM482 367h1v1h-1zM198 368h1v1h-1zM481 368h1v1h-1zM198 369h1v1h-1zM480 369h1v1h-1zM199 370h1v1h-1zM479 370h1v1h-1zM199 371h1v1h-1zM478 371h1v1h-1zM199 372h1v1h-1zM477 372h1v1h-1zM199 373h1v1h-1zM476 373h1v1h-1zM200 374h1v1h-1zM476 374h1v1h-1zM200 375h1v1h-1zM475 375h1v1h-1zM200 376h1v1h-1zM474 376h1v1h-1zM200 377h1v1h-1zM473 377h1v1h-1zM201 378h1v1h-1zM473 378h1v1h-1zM201 379h1v1h-1zM472 379h1v1h-1zM201 380h1v1h-1zM471 380h1v1h-1zM201 381h1v1h-1zM470 381h1v1h-1zM202 382h1v1h-1zM470 382h1v1h-1zM202 383h1v1h-1zM469 383h1v1h-1zM202 384h1v1h-1zM468 384h1v1h-1zM203 385h1v1h-1zM467 385h1v1h-1zM203 386h1v1h-1zM466 386h1v1h-1zM203 387h1v1h-1zM465 387h1v1h-1zM203 388h1v1h-1zM464 388h1v1h-1zM204 389h1v1h-1zM463 389h1v1h-1zM204 390h1v1h-1zM462 390h1v1h-1zM204 391h1v1h-1zM460 391h2v1h-2zM205 392h1v1h-1zM458 392h2v1h-2zM205 393h1v1h-1zM456 393h2v1h-2zM205 394h1v1h-1zM454 394h2v1h-2zM206 395h1v1h-1zM452 395h2v1h-2zM206 396h1v1h-1zM450 396h2v1h-2zM206 397h1v1h-1zM449 397h1v1h-1zM206 398h1v1h-1zM447 398h2v1h-2zM207 399h1v1h-1zM445 399h2v1h-2zM207 400h1v1h-1zM444 400h1v1h-1zM208 401h1v1h-1zM442 401h2v1h-2zM208 402h1v1h-1zM440 402h2v1h-2zM209 403h1v1h-1zM439 403h1v1h-1zM209 404h1v1h-1zM438 404h1v1h-1zM210 405h1v1h-1zM437 405h1v1h-1zM211 406h1v1h-1zM436 406h1v1h-1zM211 407h1v1h-1zM434 407h2v1h-2zM212 408h1v1h-1zM433 408h1v1h-1zM212 409h1v1h-1zM432 409h1v1h-1zM213 410h1v1h-1zM431 410h1v1h-1zM214 411h1v1h-1zM430 411h1v1h-1zM214 412h1v1h-1zM341 412h16v1h-16zM428 412h2v1h-2zM215 413h1v1h-1zM330 413h11v1h-11zM357 413h12v1h-12zM426 413h2v1h-2zM215 414h1v1h-1zM326 414h4v1h-4zM369 414h7v1h-7zM424 414h2v1h-2zM216 415h1v1h-1zM322 415h4v1h-4zM376 415h2v1h-2zM422 415h2v1h-2zM217 416h1v1h-1zM319 416h3v1h-3zM378 416h2v1h-2zM420 416h2v1h-2zM217 417h1v1h-1zM315 417h4v1h-4zM380 417h1v1h-1zM418 417h2v1h-2zM218 418h1v1h-1zM313 418h2v1h-2zM381 418h2v1h-2zM416 418h2v1h-2zM219 419h1v1h-1zM312 419h1v1h-1zM383 419h2v1h-2zM414 419h2v1h-2zM219 420h1v1h-1zM311 420h1v1h-1zM385 420h1v1h-1zM413 420h1v1h-1zM220 421h1v1h-1zM310 421h1v1h-1zM386 421h2v1h-2zM412 421h1v1h-1zM221 422h1v1h-1zM309 422h1v1h-1zM388 422h1v1h-1zM411 422h1v1h-1zM222 423h1v1h-1zM308 423h1v1h-1zM389 423h1v1h-1zM410 423h1v1h-1zM222 424h1v1h-1zM307 424h1v1h-1zM390 424h2v1h-2zM409 424h1v1h-1zM223 425h1v1h-1zM306 425h1v1h-1zM392 425h1v1h-1zM408 425h1v1h-1zM224 426h1v1h-1zM305 426h1v1h-1zM393 426h2v1h-2zM407 426h1v1h-1zM224 427h1v1h-1zM304 427h1v1h-1zM395 427h1v1h-1zM406 427h1v1h-1zM225 428h1v1h-1zM303 428h1v1h-1zM396 428h2v1h-2zM402 428h4v1h-4zM226 429h1v1h-1zM302 429h1v1h-1zM398 429h4v1h-4zM227 430h1v1h-1zM301 430h1v1h-1zM228 431h1v1h-1zM300 431h1v1h-1zM229 432h1v1h-1zM299 432h1v1h-1zM230 433h2v1h-2zM298 433h1v1h-1zM232 434h1v1h-1zM297 434h1v1h-1zM233 435h1v1h-1zM296 435h1v1h-1zM234 436h1v1h-1zM296 436h1v1h-1zM235 437h2v1h-2zM295 437h1v1h-1zM237 438h4v1h-4zM294 438h1v1h-1zM241 439h3v1h-3zM293 439h1v1h-1zM244 440h4v1h-4zM292 440h1v1h-1zM248 441h3v1h-3zM291 441h1v1h-1zM251 442h3v1h-3zM289 442h2v1h-2zM254 443h3v1h-3zM288 443h1v1h-1zM257 444h3v1h-3zM286 444h2v1h-2zM260 445h3v1h-3zM284 445h2v1h-2zM263 446h2v1h-2zM283 446h1v1h-1zM265 447h3v1h-3zM281 447h2v1h-2zM268 448h2v1h-2zM276 448h5v1h-5zM270 449h6v1h-6z" fill="#dc22dc"/>
</g>
<line x1="89" y1="192.5" x2="1134" y2="192.5" stroke="#ec9a34" stroke-width="1" stroke-dasharray="3 3" shape-rendering="crispEdges"/>
<g shape-rendering="crispEdges" fill="#f0f0f0"><rect x="91" y="133" width="7" height="1"/><rect x="93" y="131" width="1" height="5"/></g>
<g shape-rendering="crispEdges" fill="#f0f0f0"><rect x="547" y="171" width="7" height="1"/><rect x="549" y="169" width="1" height="5"/></g>
<g shape-rendering="crispEdges" fill="#f0f0f0"><rect x="1043" y="166" width="7" height="1"/><rect x="1045" y="164" width="1" height="5"/></g>
<g shape-rendering="crispEdges" fill="#f0f0f0"><rect x="203" y="430" width="7" height="1"/><rect x="205" y="428" width="1" height="5"/></g>
<g shape-rendering="crispEdges" fill="#f0f0f0"><rect x="715" y="333" width="7" height="1"/><rect x="717" y="331" width="1" height="5"/></g>
<g shape-rendering="crispEdges">
<rect x="93" y="520" width="1" height="6" fill="#52b98a"/>
<rect x="101" y="520" width="1" height="15" fill="#52b98a"/>
<rect x="109" y="520" width="1" height="24" fill="#52b98a"/>
<rect x="117" y="520" width="1" height="34" fill="#52b98a"/>
<rect x="125" y="520" width="1" height="40" fill="#52b98a"/>
<rect x="133" y="520" width="1" height="41" fill="#52b98a"/>
<rect x="141" y="520" width="1" height="37" fill="#52b98a"/>
<rect x="149" y="520" width="1" height="34" fill="#52b98a"/>
<rect x="157" y="520" width="1" height="30" fill="#52b98a"/>
<rect x="165" y="520" width="1" height="24" fill="#52b98a"/>
<rect x="173" y="520" width="1" height="17" fill="#52b98a"/>
<rect x="181" y="520" width="1" height="15" fill="#52b98a"/>
<rect x="189" y="520" width="1" height="16" fill="#52b98a"/>
<rect x="197" y="520" width="1" height="24" fill="#52b98a"/>
<rect x="205" y="520" width="1" height="33" fill="#52b98a"/>
<rect x="213" y="520" width="1" height="30" fill="#52b98a"/>
<rect x="221" y="520" width="1" height="26" fill="#52b98a"/>
<rect x="229" y="520" width="1" height="20" fill="#52b98a"/>
<rect x="237" y="520" width="1" height="11" fill="#52b98a"/>
<rect x="245" y="519" width="1" height="2" fill="#ec4f62"/>
<rect x="253" y="514" width="1" height="7" fill="#ec4f62"/>
<rect x="261" y="510" width="1" height="11" fill="#ec4f62"/>
<rect x="269" y="510" width="1" height="11" fill="#ec4f62"/>
<rect x="277" y="506" width="1" height="15" fill="#ec4f62"/>
<rect x="285" y="503" width="1" height="18" fill="#ec4f62"/>
<rect x="293" y="501" width="1" height="20" fill="#ec4f62"/>
<rect x="301" y="502" width="1" height="19" fill="#ec4f62"/>
<rect x="309" y="495" width="1" height="26" fill="#ec4f62"/>
<rect x="317" y="491" width="1" height="30" fill="#ec4f62"/>
<rect x="325" y="487" width="1" height="34" fill="#ec4f62"/>
<rect x="333" y="485" width="1" height="36" fill="#ec4f62"/>
<rect x="341" y="480" width="1" height="41" fill="#ec4f62"/>
<rect x="349" y="476" width="1" height="45" fill="#ec4f62"/>
<rect x="357" y="476" width="1" height="45" fill="#ec4f62"/>
<rect x="365" y="476" width="1" height="45" fill="#ec4f62"/>
<rect x="373" y="478" width="1" height="43" fill="#ec4f62"/>
<rect x="381" y="476" width="1" height="45" fill="#ec4f62"/>
<rect x="389" y="476" width="1" height="45" fill="#ec4f62"/>
<rect x="397" y="476" width="1" height="45" fill="#ec4f62"/>
<rect x="405" y="480" width="1" height="41" fill="#ec4f62"/>
<rect x="413" y="486" width="1" height="35" fill="#ec4f62"/>
<rect x="421" y="488" width="1" height="33" fill="#ec4f62"/>
<rect x="429" y="492" width="1" height="29" fill="#ec4f62"/>
<rect x="437" y="500" width="1" height="21" fill="#ec4f62"/>
<rect x="445" y="506" width="1" height="15" fill="#ec4f62"/>
<rect x="453" y="511" width="1" height="10" fill="#ec4f62"/>
<rect x="461" y="516" width="1" height="5" fill="#ec4f62"/>
<rect x="469" y="516" width="1" height="5" fill="#ec4f62"/>
<rect x="477" y="518" width="1" height="3" fill="#ec4f62"/>
<rect x="485" y="516" width="1" height="5" fill="#ec4f62"/>
<rect x="493" y="515" width="1" height="6" fill="#ec4f62"/>
<rect x="501" y="516" width="1" height="5" fill="#ec4f62"/>
<rect x="509" y="514" width="1" height="7" fill="#ec4f62"/>
<rect x="517" y="512" width="1" height="9" fill="#ec4f62"/>
<rect x="525" y="516" width="1" height="5" fill="#ec4f62"/>
<rect x="533" y="517" width="1" height="4" fill="#ec4f62"/>
<rect x="541" y="515" width="1" height="6" fill="#ec4f62"/>
<rect x="549" y="516" width="1" height="5" fill="#ec4f62"/>
<rect x="557" y="519" width="1" height="2" fill="#ec4f62"/>
<rect x="565" y="520" width="1" height="1" fill="#ec4f62"/>
<rect x="573" y="520" width="1" height="5" fill="#52b98a"/>
<rect x="581" y="520" width="1" height="9" fill="#52b98a"/>
<rect x="589" y="520" width="1" height="11" fill="#52b98a"/>
<rect x="597" y="520" width="1" height="13" fill="#52b98a"/>
<rect x="605" y="520" width="1" height="16" fill="#52b98a"/>
<rect x="613" y="520" width="1" height="19" fill="#52b98a"/>
<rect x="621" y="520" width="1" height="27" fill="#52b98a"/>
<rect x="629" y="520" width="1" height="33" fill="#52b98a"/>
<rect x="637" y="520" width="1" height="36" fill="#52b98a"/>
<rect x="645" y="520" width="1" height="35" fill="#52b98a"/>
<rect x="653" y="520" width="1" height="34" fill="#52b98a"/>
<rect x="661" y="520" width="1" height="32" fill="#52b98a"/>
<rect x="669" y="520" width="1" height="29" fill="#52b98a"/>
<rect x="677" y="520" width="1" height="25" fill="#52b98a"/>
<rect x="685" y="520" width="1" height="21" fill="#52b98a"/>
<rect x="693" y="520" width="1" height="17" fill="#52b98a"/>
<rect x="701" y="520" width="1" height="19" fill="#52b98a"/>
<rect x="709" y="520" width="1" height="19" fill="#52b98a"/>
<rect x="717" y="520" width="1" height="10" fill="#52b98a"/>
<rect x="725" y="520" width="1" height="7" fill="#52b98a"/>
<rect x="733" y="520" width="1" height="2" fill="#52b98a"/>
<rect x="741" y="519" width="1" height="2" fill="#ec4f62"/>
<rect x="749" y="515" width="1" height="6" fill="#ec4f62"/>
<rect x="757" y="516" width="1" height="5" fill="#ec4f62"/>
<rect x="765" y="515" width="1" height="6" fill="#ec4f62"/>
<rect x="773" y="512" width="1" height="9" fill="#ec4f62"/>
<rect x="781" y="511" width="1" height="10" fill="#ec4f62"/>
<rect x="789" y="509" width="1" height="12" fill="#ec4f62"/>
<rect x="797" y="507" width="1" height="14" fill="#ec4f62"/>
<rect x="805" y="507" width="1" height="14" fill="#ec4f62"/>
<rect x="813" y="509" width="1" height="12" fill="#ec4f62"/>
<rect x="821" y="512" width="1" height="9" fill="#ec4f62"/>
<rect x="829" y="514" width="1" height="7" fill="#ec4f62"/>
<rect x="837" y="513" width="1" height="8" fill="#ec4f62"/>
<rect x="845" y="513" width="1" height="8" fill="#ec4f62"/>
<rect x="853" y="512" width="1" height="9" fill="#ec4f62"/>
<rect x="861" y="511" width="1" height="10" fill="#ec4f62"/>
<rect x="869" y="510" width="1" height="11" fill="#ec4f62"/>
<rect x="877" y="510" width="1" height="11" fill="#ec4f62"/>
<rect x="885" y="510" width="1" height="11" fill="#ec4f62"/>
<rect x="893" y="511" width="1" height="10" fill="#ec4f62"/>
<rect x="901" y="512" width="1" height="9" fill="#ec4f62"/>
<rect x="909" y="508" width="1" height="13" fill="#ec4f62"/>
<rect x="917" y="508" width="1" height="13" fill="#ec4f62"/>
<rect x="925" y="511" width="1" height="10" fill="#ec4f62"/>
<rect x="933" y="513" width="1" height="8" fill="#ec4f62"/>
<rect x="941" y="514" width="1" height="7" fill="#ec4f62"/>
<rect x="949" y="514" width="1" height="7" fill="#ec4f62"/>
<rect x="957" y="512" width="1" height="9" fill="#ec4f62"/>
<rect x="965" y="509" width="1" height="12" fill="#ec4f62"/>
<rect x="973" y="504" width="1" height="17" fill="#ec4f62"/>
<rect x="981" y="503" width="1" height="18" fill="#ec4f62"/>
<rect x="989" y="502" width="1" height="19" fill="#ec4f62"/>
<rect x="997" y="505" width="1" height="16" fill="#ec4f62"/>
<rect x="1005" y="504" width="1" height="17" fill="#ec4f62"/>
<rect x="1013" y="503" width="1" height="18" fill="#ec4f62"/>
<rect x="1021" y="506" width="1" height="15" fill="#ec4f62"/>
<rect x="1029" y="506" width="1" height="15" fill="#ec4f62"/>
<rect x="1037" y="507" width="1" height="14" fill="#ec4f62"/>
<rect x="1045" y="510" width="1" height="11" fill="#ec4f62"/>
<rect x="1053" y="514" width="1" height="7" fill="#ec4f62"/>
<rect x="1061" y="519" width="1" height="2" fill="#ec4f62"/>
<rect x="1069" y="520" width="1" height="3" fill="#52b98a"/>
<rect x="1077" y="520" width="1" height="12" fill="#52b98a"/>
<rect x="1085" y="520" width="1" height="16" fill="#52b98a"/>
<rect x="1093" y="520" width="1" height="16" fill="#52b98a"/>
<rect x="1101" y="520" width="1" height="12" fill="#52b98a"/>
</g>
<g shape-rendering="crispEdges" stroke-linejoin="round">
<path d="M1033 488h10v1h-10zM1027 489h6v1h-6zM1043 489h6v1h-6zM1023 490h4v1h-4zM1049 490h6v1h-6zM1017 491h6v1h-6zM1055 491h6v1h-6zM545 492h5v1h-5zM1011 492h6v1h-6zM1061 492h4v1h-4zM427 493h6v1h-6zM515 493h6v1h-6zM537 493h8v1h-8zM550 493h2v1h-2zM1007 493h4v1h-4zM1065 493h2v1h-2zM423 494h4v1h-4zM433 494h8v1h-8zM511 494h4v1h-4zM521 494h16v1h-16zM552 494h14v1h-14zM1004 494h3v1h-3zM1067 494h2v1h-2zM419 495h4v1h-4zM441 495h6v1h-6zM506 495h5v1h-5zM566 495h2v1h-2zM1002 495h2v1h-2zM1069 495h2v1h-2zM415 496h4v1h-4zM447 496h4v1h-4zM500 496h6v1h-6zM568 496h2v1h-2zM1000 496h2v1h-2zM1071 496h2v1h-2zM411 497h4v1h-4zM451 497h4v1h-4zM483 497h17v1h-17zM570 497h2v1h-2zM988 497h12v1h-12zM1073 497h2v1h-2zM407 498h4v1h-4zM455 498h4v1h-4zM465 498h8v1h-8zM479 498h4v1h-4zM572 498h3v1h-3zM985 498h3v1h-3zM1075 498h2v1h-2zM404 499h3v1h-3zM459 499h6v1h-6zM473 499h6v1h-6zM575 499h2v1h-2zM983 499h2v1h-2zM1077 499h2v1h-2zM401 500h3v1h-3zM577 500h3v1h-3zM980 500h3v1h-3zM1079 500h2v1h-2zM399 501h2v1h-2zM580 501h3v1h-3zM977 501h3v1h-3zM1081 501h2v1h-2zM397 502h2v1h-2zM583 502h4v1h-4zM975 502h2v1h-2zM1083 502h2v1h-2zM395 503h2v1h-2zM587 503h4v1h-4zM972 503h3v1h-3zM1085 503h2v1h-2zM394 504h1v1h-1zM591 504h2v1h-2zM970 504h2v1h-2zM1087 504h4v1h-4zM393 505h1v1h-1zM593 505h3v1h-3zM968 505h2v1h-2zM1091 505h10v1h-10zM391 506h2v1h-2zM596 506h3v1h-3zM966 506h2v1h-2zM390 507h1v1h-1zM599 507h4v1h-4zM964 507h2v1h-2zM389 508h1v1h-1zM603 508h3v1h-3zM962 508h2v1h-2zM387 509h2v1h-2zM606 509h2v1h-2zM960 509h2v1h-2zM386 510h1v1h-1zM608 510h2v1h-2zM958 510h2v1h-2zM385 511h1v1h-1zM610 511h2v1h-2zM954 511h4v1h-4zM383 512h2v1h-2zM612 512h2v1h-2zM948 512h6v1h-6zM382 513h1v1h-1zM614 513h1v1h-1zM911 513h37v1h-37zM381 514h1v1h-1zM615 514h1v1h-1zM908 514h3v1h-3zM379 515h2v1h-2zM616 515h1v1h-1zM906 515h2v1h-2zM378 516h1v1h-1zM617 516h2v1h-2zM904 516h2v1h-2zM377 517h1v1h-1zM619 517h1v1h-1zM902 517h2v1h-2zM375 518h2v1h-2zM620 518h1v1h-1zM886 518h16v1h-16zM374 519h1v1h-1zM621 519h1v1h-1zM880 519h6v1h-6zM372 520h2v1h-2zM622 520h1v1h-1zM875 520h5v1h-5zM369 521h3v1h-3zM623 521h1v1h-1zM871 521h4v1h-4zM367 522h2v1h-2zM624 522h1v1h-1zM866 522h5v1h-5zM365 523h2v1h-2zM625 523h2v1h-2zM860 523h6v1h-6zM363 524h2v1h-2zM627 524h1v1h-1zM854 524h6v1h-6zM362 525h1v1h-1zM628 525h1v1h-1zM848 525h6v1h-6zM361 526h1v1h-1zM629 526h1v1h-1zM841 526h7v1h-7zM359 527h2v1h-2zM630 527h2v1h-2zM835 527h6v1h-6zM358 528h1v1h-1zM632 528h1v1h-1zM803 528h32v1h-32zM357 529h1v1h-1zM633 529h2v1h-2zM799 529h4v1h-4zM356 530h1v1h-1zM635 530h2v1h-2zM796 530h3v1h-3zM355 531h1v1h-1zM637 531h2v1h-2zM793 531h3v1h-3zM353 532h2v1h-2zM639 532h2v1h-2zM791 532h2v1h-2zM352 533h1v1h-1zM641 533h3v1h-3zM787 533h4v1h-4zM351 534h1v1h-1zM644 534h2v1h-2zM783 534h4v1h-4zM350 535h1v1h-1zM646 535h2v1h-2zM779 535h4v1h-4zM349 536h1v1h-1zM648 536h1v1h-1zM775 536h4v1h-4zM348 537h1v1h-1zM649 537h2v1h-2zM771 537h4v1h-4zM347 538h1v1h-1zM651 538h2v1h-2zM767 538h4v1h-4zM346 539h1v1h-1zM653 539h2v1h-2zM763 539h4v1h-4zM345 540h1v1h-1zM655 540h4v1h-4zM748 540h15v1h-15zM344 541h1v1h-1zM659 541h4v1h-4zM745 541h3v1h-3zM93 542h1v1h-1zM343 542h1v1h-1zM663 542h2v1h-2zM743 542h2v1h-2zM94 543h1v1h-1zM342 543h1v1h-1zM665 543h3v1h-3zM738 543h5v1h-5zM95 544h2v1h-2zM341 544h1v1h-1zM668 544h5v1h-5zM732 544h6v1h-6zM97 545h1v1h-1zM340 545h1v1h-1zM673 545h18v1h-18zM726 545h6v1h-6zM98 546h1v1h-1zM339 546h1v1h-1zM691 546h3v1h-3zM720 546h6v1h-6zM99 547h2v1h-2zM337 547h2v1h-2zM694 547h3v1h-3zM716 547h4v1h-4zM101 548h1v1h-1zM336 548h1v1h-1zM697 548h3v1h-3zM714 548h2v1h-2zM102 549h1v1h-1zM335 549h1v1h-1zM700 549h3v1h-3zM712 549h2v1h-2zM103 550h1v1h-1zM334 550h1v1h-1zM703 550h4v1h-4zM710 550h2v1h-2zM104 551h1v1h-1zM333 551h1v1h-1zM707 551h3v1h-3zM105 552h1v1h-1zM331 552h2v1h-2zM105 553h1v1h-1zM330 553h1v1h-1zM106 554h1v1h-1zM329 554h1v1h-1zM107 555h1v1h-1zM327 555h2v1h-2zM108 556h1v1h-1zM326 556h1v1h-1zM109 557h1v1h-1zM325 557h1v1h-1zM110 558h1v1h-1zM323 558h2v1h-2zM111 559h1v1h-1zM322 559h1v1h-1zM112 560h1v1h-1zM321 560h1v1h-1zM113 561h1v1h-1zM319 561h2v1h-2zM113 562h1v1h-1zM318 562h1v1h-1zM114 563h1v1h-1zM317 563h1v1h-1zM115 564h1v1h-1zM315 564h2v1h-2zM116 565h1v1h-1zM314 565h1v1h-1zM117 566h1v1h-1zM313 566h1v1h-1zM118 567h1v1h-1zM311 567h2v1h-2zM119 568h1v1h-1zM310 568h1v1h-1zM120 569h1v1h-1zM309 569h1v1h-1zM121 570h2v1h-2zM307 570h2v1h-2zM123 571h1v1h-1zM305 571h2v1h-2zM124 572h1v1h-1zM304 572h1v1h-1zM125 573h1v1h-1zM302 573h2v1h-2zM126 574h2v1h-2zM300 574h2v1h-2zM128 575h1v1h-1zM297 575h3v1h-3zM129 576h2v1h-2zM295 576h2v1h-2zM131 577h2v1h-2zM292 577h3v1h-3zM133 578h2v1h-2zM289 578h3v1h-3zM135 579h4v1h-4zM287 579h2v1h-2zM139 580h4v1h-4zM284 580h3v1h-3zM143 581h2v1h-2zM281 581h3v1h-3zM145 582h3v1h-3zM279 582h2v1h-2zM148 583h3v1h-3zM171 583h11v1h-11zM276 583h3v1h-3zM151 584h4v1h-4zM167 584h4v1h-4zM182 584h2v1h-2zM274 584h2v1h-2zM155 585h12v1h-12zM184 585h2v1h-2zM272 585h2v1h-2zM186 586h2v1h-2zM270 586h2v1h-2zM188 587h2v1h-2zM265 587h5v1h-5zM190 588h1v1h-1zM260 588h5v1h-5zM191 589h1v1h-1zM257 589h3v1h-3zM192 590h1v1h-1zM255 590h2v1h-2zM193 591h2v1h-2zM252 591h3v1h-3zM195 592h1v1h-1zM250 592h2v1h-2zM196 593h1v1h-1zM248 593h2v1h-2zM197 594h1v1h-1zM246 594h2v1h-2zM198 595h1v1h-1zM245 595h1v1h-1zM199 596h1v1h-1zM243 596h2v1h-2zM200 597h1v1h-1zM241 597h2v1h-2zM201 598h2v1h-2zM240 598h1v1h-1zM203 599h1v1h-1zM238 599h2v1h-2zM204 600h1v1h-1zM236 600h2v1h-2zM205 601h2v1h-2zM233 601h3v1h-3zM207 602h4v1h-4zM231 602h2v1h-2zM211 603h20v1h-20z" fill="#f0f0f0"/>
<path d="M1045 493h29v1h-29zM549 494h18v1h-18zM1039 494h6v1h-6zM1074 494h4v1h-4zM539 495h10v1h-10zM567 495h4v1h-4zM1035 495h4v1h-4zM1078 495h4v1h-4zM518 496h21v1h-21zM571 496h12v1h-12zM1031 496h4v1h-4zM1082 496h6v1h-6zM512 497h6v1h-6zM583 497h4v1h-4zM1026 497h5v1h-5zM1088 497h6v1h-6zM503 498h9v1h-9zM587 498h6v1h-6zM1020 498h6v1h-6zM1094 498h4v1h-4zM491 499h12v1h-12zM593 499h8v1h-8zM1015 499h5v1h-5zM1098 499h3v1h-3zM459 500h32v1h-32zM601 500h6v1h-6zM1011 500h4v1h-4zM451 501h8v1h-8zM607 501h2v1h-2zM1007 501h4v1h-4zM447 502h4v1h-4zM609 502h3v1h-3zM1003 502h4v1h-4zM441 503h6v1h-6zM612 503h3v1h-3zM999 503h4v1h-4zM436 504h5v1h-5zM615 504h2v1h-2zM995 504h4v1h-4zM433 505h3v1h-3zM617 505h3v1h-3zM992 505h3v1h-3zM431 506h2v1h-2zM620 506h2v1h-2zM989 506h3v1h-3zM428 507h3v1h-3zM622 507h2v1h-2zM987 507h2v1h-2zM426 508h2v1h-2zM624 508h2v1h-2zM983 508h4v1h-4zM424 509h2v1h-2zM626 509h2v1h-2zM979 509h4v1h-4zM422 510h2v1h-2zM628 510h2v1h-2zM975 510h4v1h-4zM420 511h2v1h-2zM630 511h2v1h-2zM971 511h4v1h-4zM418 512h2v1h-2zM632 512h2v1h-2zM967 512h4v1h-4zM416 513h2v1h-2zM634 513h2v1h-2zM959 513h8v1h-8zM414 514h2v1h-2zM636 514h2v1h-2zM950 514h9v1h-9zM413 515h1v1h-1zM638 515h2v1h-2zM944 515h6v1h-6zM411 516h2v1h-2zM640 516h2v1h-2zM938 516h6v1h-6zM409 517h2v1h-2zM642 517h2v1h-2zM932 517h6v1h-6zM408 518h1v1h-1zM644 518h2v1h-2zM923 518h9v1h-9zM406 519h2v1h-2zM646 519h2v1h-2zM914 519h9v1h-9zM404 520h2v1h-2zM648 520h2v1h-2zM908 520h6v1h-6zM402 521h2v1h-2zM650 521h2v1h-2zM902 521h6v1h-6zM400 522h2v1h-2zM652 522h2v1h-2zM896 522h6v1h-6zM398 523h2v1h-2zM654 523h2v1h-2zM890 523h6v1h-6zM397 524h1v1h-1zM656 524h2v1h-2zM884 524h6v1h-6zM395 525h2v1h-2zM658 525h2v1h-2zM878 525h6v1h-6zM393 526h2v1h-2zM660 526h2v1h-2zM872 526h6v1h-6zM392 527h1v1h-1zM662 527h2v1h-2zM866 527h6v1h-6zM390 528h2v1h-2zM664 528h2v1h-2zM860 528h6v1h-6zM389 529h1v1h-1zM666 529h2v1h-2zM851 529h9v1h-9zM387 530h2v1h-2zM668 530h3v1h-3zM842 530h9v1h-9zM386 531h1v1h-1zM671 531h2v1h-2zM836 531h6v1h-6zM385 532h1v1h-1zM673 532h3v1h-3zM825 532h11v1h-11zM383 533h2v1h-2zM676 533h3v1h-3zM814 533h11v1h-11zM382 534h1v1h-1zM679 534h4v1h-4zM808 534h6v1h-6zM381 535h1v1h-1zM683 535h4v1h-4zM803 535h5v1h-5zM379 536h2v1h-2zM687 536h4v1h-4zM799 536h4v1h-4zM378 537h1v1h-1zM691 537h4v1h-4zM794 537h5v1h-5zM377 538h1v1h-1zM695 538h2v1h-2zM788 538h6v1h-6zM375 539h2v1h-2zM697 539h3v1h-3zM782 539h6v1h-6zM93 540h4v1h-4zM374 540h1v1h-1zM700 540h3v1h-3zM776 540h6v1h-6zM97 541h6v1h-6zM373 541h1v1h-1zM703 541h4v1h-4zM767 541h9v1h-9zM103 542h2v1h-2zM371 542h2v1h-2zM707 542h6v1h-6zM755 542h12v1h-12zM105 543h3v1h-3zM369 543h2v1h-2zM713 543h8v1h-8zM743 543h12v1h-12zM108 544h2v1h-2zM368 544h1v1h-1zM721 544h22v1h-22zM110 545h2v1h-2zM366 545h2v1h-2zM112 546h2v1h-2zM365 546h1v1h-1zM114 547h2v1h-2zM363 547h2v1h-2zM116 548h2v1h-2zM362 548h1v1h-1zM118 549h2v1h-2zM361 549h1v1h-1zM120 550h1v1h-1zM359 550h2v1h-2zM121 551h2v1h-2zM358 551h1v1h-1zM123 552h2v1h-2zM357 552h1v1h-1zM125 553h1v1h-1zM355 553h2v1h-2zM126 554h2v1h-2zM353 554h2v1h-2zM128 555h1v1h-1zM352 555h1v1h-1zM129 556h2v1h-2zM350 556h2v1h-2zM131 557h2v1h-2zM349 557h1v1h-1zM133 558h1v1h-1zM348 558h1v1h-1zM134 559h2v1h-2zM347 559h1v1h-1zM136 560h1v1h-1zM345 560h2v1h-2zM137 561h2v1h-2zM344 561h1v1h-1zM139 562h2v1h-2zM343 562h1v1h-1zM141 563h1v1h-1zM342 563h1v1h-1zM142 564h2v1h-2zM340 564h2v1h-2zM144 565h2v1h-2zM338 565h2v1h-2zM146 566h2v1h-2zM336 566h2v1h-2zM148 567h3v1h-3zM334 567h2v1h-2zM151 568h2v1h-2zM333 568h1v1h-1zM153 569h3v1h-3zM331 569h2v1h-2zM156 570h3v1h-3zM329 570h2v1h-2zM159 571h2v1h-2zM328 571h1v1h-1zM161 572h3v1h-3zM326 572h2v1h-2zM164 573h3v1h-3zM324 573h2v1h-2zM167 574h4v1h-4zM322 574h2v1h-2zM171 575h4v1h-4zM320 575h2v1h-2zM175 576h4v1h-4zM318 576h2v1h-2zM179 577h4v1h-4zM316 577h2v1h-2zM183 578h4v1h-4zM313 578h3v1h-3zM187 579h4v1h-4zM311 579h2v1h-2zM191 580h4v1h-4zM308 580h3v1h-3zM195 581h3v1h-3zM305 581h3v1h-3zM198 582h2v1h-2zM303 582h2v1h-2zM200 583h2v1h-2zM299 583h4v1h-4zM202 584h2v1h-2zM295 584h4v1h-4zM204 585h3v1h-3zM291 585h4v1h-4zM207 586h2v1h-2zM287 586h4v1h-4zM209 587h3v1h-3zM283 587h4v1h-4zM212 588h2v1h-2zM279 588h4v1h-4zM214 589h2v1h-2zM275 589h4v1h-4zM216 590h2v1h-2zM271 590h4v1h-4zM218 591h2v1h-2zM267 591h4v1h-4zM220 592h3v1h-3zM263 592h4v1h-4zM223 593h4v1h-4zM259 593h4v1h-4zM227 594h4v1h-4zM255 594h4v1h-4zM231 595h4v1h-4zM249 595h6v1h-6zM235 596h14v1h-14z" fill="#d8d820"/>
</g>
<g shape-rendering="crispEdges" stroke-linejoin="round">
<path d="M973 627h1v1h-1zM972 628h1v1h-1zM974 628h2v1h-2zM988 628h2v1h-2zM971 629h1v1h-1zM976 629h2v1h-2zM985 629h3v1h-3zM990 629h1v1h-1zM1009 629h5v1h-5zM1029 629h9v1h-9zM970 630h1v1h-1zM978 630h2v1h-2zM983 630h2v1h-2zM990 630h1v1h-1zM1005 630h4v1h-4zM1014 630h2v1h-2zM1027 630h2v1h-2zM1038 630h1v1h-1zM969 631h1v1h-1zM980 631h3v1h-3zM991 631h1v1h-1zM1004 631h1v1h-1zM1016 631h1v1h-1zM1025 631h2v1h-2zM1039 631h1v1h-1zM969 632h1v1h-1zM991 632h1v1h-1zM1004 632h1v1h-1zM1017 632h2v1h-2zM1024 632h1v1h-1zM1040 632h1v1h-1zM968 633h1v1h-1zM992 633h1v1h-1zM1003 633h1v1h-1zM1019 633h2v1h-2zM1022 633h2v1h-2zM1041 633h1v1h-1zM517 634h1v1h-1zM967 634h1v1h-1zM993 634h1v1h-1zM1002 634h1v1h-1zM1021 634h1v1h-1zM1042 634h1v1h-1zM516 635h2v1h-2zM966 635h1v1h-1zM993 635h1v1h-1zM1001 635h1v1h-1zM1043 635h1v1h-1zM515 636h1v1h-1zM518 636h1v1h-1zM965 636h1v1h-1zM994 636h1v1h-1zM1001 636h1v1h-1zM1044 636h1v1h-1zM513 637h2v1h-2zM518 637h1v1h-1zM964 637h1v1h-1zM995 637h1v1h-1zM1000 637h1v1h-1zM1045 637h4v1h-4zM393 638h5v1h-5zM512 638h1v1h-1zM519 638h1v1h-1zM963 638h1v1h-1zM995 638h1v1h-1zM999 638h1v1h-1zM1049 638h5v1h-5zM388 639h5v1h-5zM398 639h1v1h-1zM511 639h1v1h-1zM519 639h1v1h-1zM909 639h1v1h-1zM963 639h1v1h-1zM996 639h1v1h-1zM998 639h1v1h-1zM1054 639h1v1h-1zM386 640h2v1h-2zM399 640h1v1h-1zM510 640h1v1h-1zM520 640h1v1h-1zM541 640h1v1h-1zM909 640h2v1h-2zM962 640h1v1h-1zM996 640h1v1h-1zM998 640h1v1h-1zM1054 640h1v1h-1zM384 641h2v1h-2zM400 641h1v1h-1zM421 641h2v1h-2zM508 641h2v1h-2zM520 641h1v1h-1zM540 641h1v1h-1zM542 641h2v1h-2zM908 641h1v1h-1zM910 641h1v1h-1zM961 641h1v1h-1zM997 641h1v1h-1zM1055 641h1v1h-1zM382 642h2v1h-2zM401 642h1v1h-1zM419 642h2v1h-2zM423 642h2v1h-2zM506 642h2v1h-2zM520 642h1v1h-1zM539 642h1v1h-1zM544 642h1v1h-1zM908 642h1v1h-1zM911 642h1v1h-1zM960 642h1v1h-1zM1056 642h1v1h-1zM381 643h1v1h-1zM401 643h1v1h-1zM418 643h1v1h-1zM425 643h3v1h-3zM485 643h2v1h-2zM504 643h2v1h-2zM521 643h1v1h-1zM538 643h1v1h-1zM545 643h2v1h-2zM907 643h1v1h-1zM912 643h1v1h-1zM959 643h1v1h-1zM1057 643h1v1h-1zM380 644h1v1h-1zM402 644h1v1h-1zM417 644h1v1h-1zM428 644h2v1h-2zM484 644h1v1h-1zM487 644h4v1h-4zM502 644h2v1h-2zM521 644h1v1h-1zM537 644h1v1h-1zM547 644h2v1h-2zM907 644h1v1h-1zM912 644h1v1h-1zM959 644h1v1h-1zM1057 644h1v1h-1zM380 645h1v1h-1zM403 645h1v1h-1zM415 645h2v1h-2zM430 645h1v1h-1zM483 645h1v1h-1zM491 645h11v1h-11zM522 645h1v1h-1zM537 645h1v1h-1zM549 645h1v1h-1zM906 645h1v1h-1zM913 645h1v1h-1zM958 645h1v1h-1zM1058 645h1v1h-1zM379 646h1v1h-1zM404 646h1v1h-1zM414 646h1v1h-1zM431 646h1v1h-1zM483 646h1v1h-1zM522 646h1v1h-1zM536 646h1v1h-1zM550 646h1v1h-1zM906 646h1v1h-1zM914 646h1v1h-1zM957 646h1v1h-1zM1059 646h1v1h-1zM378 647h1v1h-1zM405 647h9v1h-9zM432 647h1v1h-1zM482 647h1v1h-1zM522 647h1v1h-1zM535 647h1v1h-1zM551 647h1v1h-1zM906 647h1v1h-1zM914 647h1v1h-1zM955 647h2v1h-2zM1060 647h1v1h-1zM1067 647h3v1h-3zM378 648h1v1h-1zM433 648h1v1h-1zM481 648h1v1h-1zM523 648h1v1h-1zM534 648h1v1h-1zM552 648h1v1h-1zM905 648h1v1h-1zM915 648h1v1h-1zM954 648h1v1h-1zM1060 648h1v1h-1zM1063 648h4v1h-4zM1069 648h1v1h-1zM365 649h1v1h-1zM377 649h1v1h-1zM433 649h1v1h-1zM469 649h1v1h-1zM480 649h1v1h-1zM523 649h1v1h-1zM532 649h2v1h-2zM553 649h2v1h-2zM564 649h2v1h-2zM905 649h1v1h-1zM916 649h1v1h-1zM953 649h1v1h-1zM1061 649h2v1h-2zM1070 649h1v1h-1zM349 650h1v1h-1zM363 650h2v1h-2zM366 650h1v1h-1zM376 650h1v1h-1zM434 650h1v1h-1zM468 650h1v1h-1zM470 650h2v1h-2zM479 650h1v1h-1zM524 650h1v1h-1zM530 650h2v1h-2zM555 650h1v1h-1zM561 650h3v1h-3zM566 650h1v1h-1zM904 650h1v1h-1zM916 650h1v1h-1zM951 650h2v1h-2zM1070 650h1v1h-1zM347 651h2v1h-2zM350 651h2v1h-2zM361 651h2v1h-2zM367 651h2v1h-2zM376 651h1v1h-1zM435 651h1v1h-1zM467 651h1v1h-1zM472 651h2v1h-2zM479 651h1v1h-1zM524 651h1v1h-1zM528 651h2v1h-2zM556 651h1v1h-1zM559 651h2v1h-2zM567 651h1v1h-1zM904 651h1v1h-1zM917 651h1v1h-1zM950 651h1v1h-1zM1070 651h1v1h-1zM346 652h1v1h-1zM352 652h2v1h-2zM360 652h1v1h-1zM369 652h1v1h-1zM375 652h1v1h-1zM436 652h1v1h-1zM466 652h1v1h-1zM474 652h2v1h-2zM478 652h1v1h-1zM525 652h3v1h-3zM557 652h2v1h-2zM568 652h1v1h-1zM904 652h1v1h-1zM918 652h1v1h-1zM948 652h2v1h-2zM1070 652h1v1h-1zM345 653h1v1h-1zM354 653h2v1h-2zM358 653h2v1h-2zM370 653h1v1h-1zM374 653h1v1h-1zM437 653h4v1h-4zM465 653h1v1h-1zM476 653h2v1h-2zM525 653h1v1h-1zM569 653h1v1h-1zM903 653h1v1h-1zM918 653h1v1h-1zM946 653h2v1h-2zM1071 653h1v1h-1zM1101 653h1v1h-1zM343 654h2v1h-2zM356 654h2v1h-2zM371 654h2v1h-2zM374 654h1v1h-1zM441 654h6v1h-6zM464 654h1v1h-1zM569 654h1v1h-1zM903 654h1v1h-1zM919 654h1v1h-1zM944 654h2v1h-2zM1071 654h1v1h-1zM1100 654h1v1h-1zM342 655h1v1h-1zM373 655h1v1h-1zM447 655h4v1h-4zM463 655h1v1h-1zM570 655h1v1h-1zM902 655h1v1h-1zM920 655h1v1h-1zM942 655h2v1h-2zM1071 655h1v1h-1zM1099 655h1v1h-1zM341 656h1v1h-1zM451 656h6v1h-6zM462 656h1v1h-1zM571 656h1v1h-1zM902 656h1v1h-1zM921 656h1v1h-1zM937 656h5v1h-5zM1071 656h1v1h-1zM1099 656h1v1h-1zM340 657h1v1h-1zM457 657h5v1h-5zM572 657h1v1h-1zM868 657h3v1h-3zM889 657h8v1h-8zM901 657h1v1h-1zM921 657h1v1h-1zM933 657h4v1h-4zM1072 657h1v1h-1zM1098 657h1v1h-1zM340 658h1v1h-1zM573 658h1v1h-1zM866 658h2v1h-2zM871 658h2v1h-2zM883 658h6v1h-6zM897 658h5v1h-5zM922 658h1v1h-1zM931 658h2v1h-2zM1072 658h1v1h-1zM1097 658h1v1h-1zM339 659h1v1h-1zM574 659h2v1h-2zM864 659h2v1h-2zM873 659h3v1h-3zM879 659h4v1h-4zM923 659h1v1h-1zM929 659h2v1h-2zM1072 659h1v1h-1zM1096 659h1v1h-1zM339 660h1v1h-1zM576 660h1v1h-1zM862 660h2v1h-2zM876 660h3v1h-3zM924 660h1v1h-1zM928 660h1v1h-1zM1073 660h1v1h-1zM1095 660h1v1h-1zM338 661h1v1h-1zM577 661h2v1h-2zM587 661h3v1h-3zM860 661h2v1h-2zM924 661h1v1h-1zM926 661h2v1h-2zM1073 661h1v1h-1zM1095 661h1v1h-1zM337 662h1v1h-1zM579 662h2v1h-2zM583 662h4v1h-4zM590 662h2v1h-2zM857 662h3v1h-3zM925 662h1v1h-1zM1073 662h1v1h-1zM1094 662h1v1h-1zM337 663h1v1h-1zM581 663h2v1h-2zM592 663h1v1h-1zM855 663h2v1h-2zM1073 663h1v1h-1zM1093 663h1v1h-1zM336 664h1v1h-1zM593 664h2v1h-2zM796 664h5v1h-5zM852 664h3v1h-3zM1074 664h1v1h-1zM1092 664h1v1h-1zM335 665h1v1h-1zM595 665h2v1h-2zM794 665h2v1h-2zM801 665h5v1h-5zM850 665h2v1h-2zM1074 665h1v1h-1zM1091 665h1v1h-1zM335 666h1v1h-1zM597 666h1v1h-1zM792 666h2v1h-2zM806 666h1v1h-1zM848 666h2v1h-2zM1074 666h1v1h-1zM1090 666h1v1h-1zM334 667h1v1h-1zM598 667h2v1h-2zM790 667h2v1h-2zM807 667h1v1h-1zM846 667h2v1h-2zM1075 667h1v1h-1zM1089 667h1v1h-1zM325 668h4v1h-4zM334 668h1v1h-1zM600 668h2v1h-2zM788 668h2v1h-2zM808 668h1v1h-1zM841 668h5v1h-5zM1075 668h1v1h-1zM1089 668h1v1h-1zM324 669h1v1h-1zM329 669h5v1h-5zM602 669h2v1h-2zM773 669h2v1h-2zM786 669h2v1h-2zM809 669h1v1h-1zM837 669h4v1h-4zM1075 669h1v1h-1zM1088 669h1v1h-1zM323 670h1v1h-1zM604 670h2v1h-2zM772 670h1v1h-1zM775 670h2v1h-2zM784 670h2v1h-2zM810 670h1v1h-1zM835 670h2v1h-2zM1075 670h1v1h-1zM1087 670h1v1h-1zM321 671h2v1h-2zM606 671h1v1h-1zM771 671h1v1h-1zM777 671h3v1h-3zM782 671h2v1h-2zM811 671h1v1h-1zM834 671h1v1h-1zM1076 671h1v1h-1zM1086 671h1v1h-1zM320 672h1v1h-1zM607 672h1v1h-1zM749 672h1v1h-1zM770 672h1v1h-1zM780 672h2v1h-2zM812 672h1v1h-1zM833 672h1v1h-1zM1076 672h1v1h-1zM1084 672h2v1h-2zM319 673h1v1h-1zM608 673h1v1h-1zM717 673h1v1h-1zM748 673h1v1h-1zM750 673h1v1h-1zM769 673h1v1h-1zM813 673h2v1h-2zM831 673h2v1h-2zM1076 673h1v1h-1zM1082 673h2v1h-2zM309 674h4v1h-4zM318 674h1v1h-1zM609 674h1v1h-1zM717 674h2v1h-2zM733 674h1v1h-1zM747 674h1v1h-1zM751 674h1v1h-1zM769 674h1v1h-1zM815 674h4v1h-4zM830 674h1v1h-1zM1076 674h1v1h-1zM1080 674h2v1h-2zM309 675h1v1h-1zM313 675h5v1h-5zM610 675h1v1h-1zM717 675h2v1h-2zM732 675h1v1h-1zM734 675h2v1h-2zM745 675h2v1h-2zM752 675h1v1h-1zM768 675h1v1h-1zM819 675h11v1h-11zM1077 675h3v1h-3zM308 676h1v1h-1zM611 676h1v1h-1zM716 676h1v1h-1zM719 676h1v1h-1zM731 676h1v1h-1zM736 676h1v1h-1zM744 676h1v1h-1zM753 676h1v1h-1zM767 676h1v1h-1zM1077 676h1v1h-1zM308 677h1v1h-1zM612 677h1v1h-1zM716 677h1v1h-1zM720 677h1v1h-1zM731 677h1v1h-1zM737 677h2v1h-2zM743 677h1v1h-1zM754 677h1v1h-1zM766 677h1v1h-1zM307 678h1v1h-1zM613 678h1v1h-1zM716 678h1v1h-1zM721 678h1v1h-1zM730 678h1v1h-1zM739 678h2v1h-2zM742 678h1v1h-1zM755 678h1v1h-1zM763 678h3v1h-3zM307 679h1v1h-1zM614 679h1v1h-1zM716 679h1v1h-1zM721 679h1v1h-1zM729 679h1v1h-1zM741 679h1v1h-1zM756 679h1v1h-1zM759 679h4v1h-4zM307 680h1v1h-1zM614 680h1v1h-1zM715 680h1v1h-1zM722 680h1v1h-1zM728 680h1v1h-1zM757 680h2v1h-2zM306 681h1v1h-1zM615 681h1v1h-1zM715 681h1v1h-1zM723 681h1v1h-1zM727 681h1v1h-1zM306 682h1v1h-1zM615 682h1v1h-1zM715 682h1v1h-1zM724 682h1v1h-1zM727 682h1v1h-1zM306 683h1v1h-1zM616 683h1v1h-1zM715 683h1v1h-1zM724 683h1v1h-1zM726 683h1v1h-1zM305 684h1v1h-1zM616 684h1v1h-1zM714 684h1v1h-1zM725 684h1v1h-1zM305 685h1v1h-1zM617 685h1v1h-1zM714 685h1v1h-1zM304 686h1v1h-1zM617 686h1v1h-1zM714 686h1v1h-1zM304 687h1v1h-1zM618 687h1v1h-1zM714 687h1v1h-1zM304 688h1v1h-1zM618 688h1v1h-1zM714 688h1v1h-1zM303 689h1v1h-1zM619 689h1v1h-1zM713 689h1v1h-1zM277 690h4v1h-4zM303 690h1v1h-1zM619 690h1v1h-1zM713 690h1v1h-1zM93 691h1v1h-1zM276 691h1v1h-1zM281 691h8v1h-8zM303 691h1v1h-1zM620 691h1v1h-1zM713 691h1v1h-1zM93 692h1v1h-1zM245 692h2v1h-2zM276 692h1v1h-1zM289 692h6v1h-6zM302 692h1v1h-1zM620 692h1v1h-1zM713 692h1v1h-1zM94 693h1v1h-1zM244 693h1v1h-1zM247 693h2v1h-2zM275 693h1v1h-1zM295 693h2v1h-2zM302 693h1v1h-1zM621 693h1v1h-1zM712 693h1v1h-1zM94 694h1v1h-1zM243 694h1v1h-1zM249 694h3v1h-3zM274 694h1v1h-1zM297 694h3v1h-3zM301 694h1v1h-1zM621 694h2v1h-2zM683 694h4v1h-4zM712 694h1v1h-1zM94 695h1v1h-1zM242 695h1v1h-1zM252 695h3v1h-3zM274 695h1v1h-1zM300 695h2v1h-2zM623 695h2v1h-2zM679 695h4v1h-4zM687 695h2v1h-2zM712 695h1v1h-1zM95 696h1v1h-1zM241 696h1v1h-1zM255 696h4v1h-4zM273 696h1v1h-1zM625 696h3v1h-3zM644 696h5v1h-5zM676 696h3v1h-3zM689 696h3v1h-3zM712 696h1v1h-1zM95 697h1v1h-1zM240 697h1v1h-1zM259 697h3v1h-3zM272 697h1v1h-1zM628 697h3v1h-3zM641 697h3v1h-3zM649 697h8v1h-8zM674 697h2v1h-2zM692 697h2v1h-2zM712 697h1v1h-1zM95 698h1v1h-1zM239 698h1v1h-1zM262 698h2v1h-2zM272 698h1v1h-1zM631 698h4v1h-4zM639 698h2v1h-2zM657 698h6v1h-6zM672 698h2v1h-2zM694 698h1v1h-1zM711 698h1v1h-1zM96 699h1v1h-1zM238 699h1v1h-1zM264 699h1v1h-1zM271 699h1v1h-1zM635 699h4v1h-4zM663 699h4v1h-4zM670 699h2v1h-2zM694 699h1v1h-1zM711 699h1v1h-1zM96 700h1v1h-1zM237 700h1v1h-1zM265 700h2v1h-2zM270 700h1v1h-1zM667 700h3v1h-3zM695 700h1v1h-1zM711 700h1v1h-1zM96 701h1v1h-1zM236 701h1v1h-1zM267 701h2v1h-2zM270 701h1v1h-1zM696 701h1v1h-1zM711 701h1v1h-1zM97 702h1v1h-1zM235 702h1v1h-1zM269 702h1v1h-1zM697 702h1v1h-1zM710 702h1v1h-1zM97 703h1v1h-1zM235 703h1v1h-1zM697 703h1v1h-1zM710 703h1v1h-1zM97 704h1v1h-1zM234 704h1v1h-1zM698 704h1v1h-1zM710 704h1v1h-1zM98 705h1v1h-1zM233 705h1v1h-1zM699 705h1v1h-1zM710 705h1v1h-1zM98 706h1v1h-1zM232 706h1v1h-1zM700 706h1v1h-1zM709 706h1v1h-1zM98 707h1v1h-1zM231 707h1v1h-1zM700 707h1v1h-1zM709 707h1v1h-1zM99 708h1v1h-1zM231 708h1v1h-1zM701 708h9v1h-9zM99 709h1v1h-1zM230 709h1v1h-1zM99 710h1v1h-1zM228 710h2v1h-2zM100 711h1v1h-1zM226 711h2v1h-2zM100 712h1v1h-1zM213 712h2v1h-2zM224 712h2v1h-2zM100 713h1v1h-1zM213 713h1v1h-1zM215 713h4v1h-4zM222 713h2v1h-2zM101 714h1v1h-1zM171 714h3v1h-3zM212 714h1v1h-1zM219 714h3v1h-3zM101 715h1v1h-1zM167 715h4v1h-4zM174 715h2v1h-2zM212 715h1v1h-1zM102 716h1v1h-1zM164 716h3v1h-3zM176 716h2v1h-2zM212 716h1v1h-1zM103 717h1v1h-1zM161 717h3v1h-3zM178 717h2v1h-2zM211 717h1v1h-1zM104 718h1v1h-1zM141 718h1v1h-1zM159 718h2v1h-2zM180 718h2v1h-2zM211 718h1v1h-1zM105 719h2v1h-2zM140 719h1v1h-1zM142 719h2v1h-2zM156 719h3v1h-3zM182 719h1v1h-1zM210 719h1v1h-1zM107 720h1v1h-1zM139 720h1v1h-1zM144 720h2v1h-2zM153 720h3v1h-3zM183 720h2v1h-2zM210 720h1v1h-1zM108 721h1v1h-1zM139 721h1v1h-1zM146 721h2v1h-2zM151 721h2v1h-2zM185 721h1v1h-1zM210 721h1v1h-1zM109 722h1v1h-1zM138 722h1v1h-1zM148 722h3v1h-3zM186 722h1v1h-1zM209 722h1v1h-1zM110 723h2v1h-2zM137 723h1v1h-1zM187 723h2v1h-2zM209 723h1v1h-1zM112 724h2v1h-2zM136 724h1v1h-1zM189 724h1v1h-1zM209 724h1v1h-1zM114 725h2v1h-2zM135 725h1v1h-1zM190 725h1v1h-1zM208 725h1v1h-1zM116 726h3v1h-3zM135 726h1v1h-1zM191 726h1v1h-1zM208 726h1v1h-1zM119 727h4v1h-4zM134 727h1v1h-1zM192 727h1v1h-1zM208 727h1v1h-1zM123 728h11v1h-11zM193 728h1v1h-1zM207 728h1v1h-1zM194 729h1v1h-1zM207 729h1v1h-1zM195 730h1v1h-1zM206 730h1v1h-1zM196 731h1v1h-1zM206 731h1v1h-1zM197 732h2v1h-2zM206 732h1v1h-1zM199 733h4v1h-4zM205 733h1v1h-1zM203 734h3v1h-3z" fill="#dc22dc"/>
</g>
<text x="39.9" y="25.3" fill="#f4f4f4" stroke="#f4f4f4" stroke-width="0.2" font-size="12" textLength="45.0" lengthAdjust="spacingAndGlyphs">99.4545</text>
<text x="1136.9" y="25.3" fill="#f4f4f4" stroke="#f4f4f4" stroke-width="0.2" font-size="12" textLength="45.0" lengthAdjust="spacingAndGlyphs">99.4545</text>
<text x="39.9" y="79.3" fill="#f4f4f4" stroke="#f4f4f4" stroke-width="0.2" font-size="12" textLength="45.0" lengthAdjust="spacingAndGlyphs">98.9402</text>
<text x="1136.9" y="79.3" fill="#f4f4f4" stroke="#f4f4f4" stroke-width="0.2" font-size="12" textLength="45.0" lengthAdjust="spacingAndGlyphs">98.9402</text>
<text x="39.9" y="133.3" fill="#f4f4f4" stroke="#f4f4f4" stroke-width="0.2" font-size="12" textLength="45.0" lengthAdjust="spacingAndGlyphs">98.4259</text>
<text x="1136.9" y="133.3" fill="#f4f4f4" stroke="#f4f4f4" stroke-width="0.2" font-size="12" textLength="45.0" lengthAdjust="spacingAndGlyphs">98.4259</text>
<text x="39.9" y="187.3" fill="#f4f4f4" stroke="#f4f4f4" stroke-width="0.2" font-size="12" textLength="45.0" lengthAdjust="spacingAndGlyphs">97.9116</text>
<text x="1136.9" y="187.3" fill="#f4f4f4" stroke="#f4f4f4" stroke-width="0.2" font-size="12" textLength="45.0" lengthAdjust="spacingAndGlyphs">97.9116</text>
<text x="39.9" y="241.3" fill="#f4f4f4" stroke="#f4f4f4" stroke-width="0.2" font-size="12" textLength="45.0" lengthAdjust="spacingAndGlyphs">97.3973</text>
<text x="1136.9" y="241.3" fill="#f4f4f4" stroke="#f4f4f4" stroke-width="0.2" font-size="12" textLength="45.0" lengthAdjust="spacingAndGlyphs">97.3973</text>
<text x="39.9" y="295.3" fill="#f4f4f4" stroke="#f4f4f4" stroke-width="0.2" font-size="12" textLength="45.0" lengthAdjust="spacingAndGlyphs">96.8829</text>
<text x="1136.9" y="295.3" fill="#f4f4f4" stroke="#f4f4f4" stroke-width="0.2" font-size="12" textLength="45.0" lengthAdjust="spacingAndGlyphs">96.8829</text>
<text x="39.9" y="349.3" fill="#f4f4f4" stroke="#f4f4f4" stroke-width="0.2" font-size="12" textLength="45.0" lengthAdjust="spacingAndGlyphs">96.3686</text>
<text x="1136.9" y="349.3" fill="#f4f4f4" stroke="#f4f4f4" stroke-width="0.2" font-size="12" textLength="45.0" lengthAdjust="spacingAndGlyphs">96.3686</text>
<text x="39.9" y="403.3" fill="#f4f4f4" stroke="#f4f4f4" stroke-width="0.2" font-size="12" textLength="45.0" lengthAdjust="spacingAndGlyphs">95.8543</text>
<text x="1136.9" y="403.3" fill="#f4f4f4" stroke="#f4f4f4" stroke-width="0.2" font-size="12" textLength="45.0" lengthAdjust="spacingAndGlyphs">95.8543</text>
<text x="46.82" y="478.3" fill="#f4f4f4" stroke="#f4f4f4" stroke-width="0.2" font-size="12" textLength="38.08" lengthAdjust="spacingAndGlyphs">0.3327</text>
<text x="1136.9" y="478.3" fill="#f4f4f4" stroke="#f4f4f4" stroke-width="0.2" font-size="12" textLength="38.08" lengthAdjust="spacingAndGlyphs">0.3327</text>
<text x="46.82" y="504.3" fill="#f4f4f4" stroke="#f4f4f4" stroke-width="0.2" font-size="12" textLength="38.08" lengthAdjust="spacingAndGlyphs">0.1434</text>
<text x="1136.9" y="504.3" fill="#f4f4f4" stroke="#f4f4f4" stroke-width="0.2" font-size="12" textLength="38.08" lengthAdjust="spacingAndGlyphs">0.1434</text>
<text x="42.68" y="530.3" fill="#f4f4f4" stroke="#f4f4f4" stroke-width="0.2" font-size="12" textLength="42.22" lengthAdjust="spacingAndGlyphs">-0.0458</text>
<text x="1136.9" y="530.3" fill="#f4f4f4" stroke="#f4f4f4" stroke-width="0.2" font-size="12" textLength="42.22" lengthAdjust="spacingAndGlyphs">-0.0458</text>
<text x="42.68" y="556.3" fill="#f4f4f4" stroke="#f4f4f4" stroke-width="0.2" font-size="12" textLength="42.22" lengthAdjust="spacingAndGlyphs">-0.2350</text>
<text x="1136.9" y="556.3" fill="#f4f4f4" stroke="#f4f4f4" stroke-width="0.2" font-size="12" textLength="42.22" lengthAdjust="spacingAndGlyphs">-0.2350</text>
<text x="42.68" y="582.3" fill="#f4f4f4" stroke="#f4f4f4" stroke-width="0.2" font-size="12" textLength="42.22" lengthAdjust="spacingAndGlyphs">-0.4243</text>
<text x="1136.9" y="582.3" fill="#f4f4f4" stroke="#f4f4f4" stroke-width="0.2" font-size="12" textLength="42.22" lengthAdjust="spacingAndGlyphs">-0.4243</text>
<text x="39.9" y="630.3" fill="#f4f4f4" stroke="#f4f4f4" stroke-width="0.2" font-size="12" textLength="45.0" lengthAdjust="spacingAndGlyphs">72.6000</text>
<text x="1136.9" y="630.3" fill="#f4f4f4" stroke="#f4f4f4" stroke-width="0.2" font-size="12" textLength="45.0" lengthAdjust="spacingAndGlyphs">72.6000</text>
<text x="39.9" y="657.3" fill="#f4f4f4" stroke="#f4f4f4" stroke-width="0.2" font-size="12" textLength="45.0" lengthAdjust="spacingAndGlyphs">57.2825</text>
<text x="1136.9" y="657.3" fill="#f4f4f4" stroke="#f4f4f4" stroke-width="0.2" font-size="12" textLength="45.0" lengthAdjust="spacingAndGlyphs">57.2825</text>
<text x="39.9" y="684.3" fill="#f4f4f4" stroke="#f4f4f4" stroke-width="0.2" font-size="12" textLength="45.0" lengthAdjust="spacingAndGlyphs">41.9649</text>
<text x="1136.9" y="684.3" fill="#f4f4f4" stroke="#f4f4f4" stroke-width="0.2" font-size="12" textLength="45.0" lengthAdjust="spacingAndGlyphs">41.9649</text>
<text x="39.9" y="711.3" fill="#f4f4f4" stroke="#f4f4f4" stroke-width="0.2" font-size="12" textLength="45.0" lengthAdjust="spacingAndGlyphs">26.6474</text>
<text x="1136.9" y="711.3" fill="#f4f4f4" stroke="#f4f4f4" stroke-width="0.2" font-size="12" textLength="45.0" lengthAdjust="spacingAndGlyphs">26.6474</text>
<rect x="1134.5" y="192.5" width="70" height="17" fill="#000" stroke="#ec9a34" stroke-width="1"/>
<text x="1136.92" y="205.3" fill="#f59a23" font-size="12" font-weight="normal" textLength="45.08" lengthAdjust="spacingAndGlyphs" >97.8309</text>
<path d="M1194.5 187.6 L1198 184 L1201 187 Z M1194.5 191.8 L1198 188 L1201 191 V191.8Z" fill="#ec9a34"/>
<text x="102.5" y="748.5" fill="#f8f8f8" font-size="12" font-weight="bold" textLength="31.57" lengthAdjust="spacingAndGlyphs" >01/24</text>
<text x="246.9" y="748.5" fill="#f8f8f8" font-size="12" font-weight="bold" textLength="31.77" lengthAdjust="spacingAndGlyphs" >01/29</text>
<text x="390.49" y="748.5" fill="#f8f8f8" font-size="12" font-weight="bold" textLength="31.97" lengthAdjust="spacingAndGlyphs" >02/03</text>
<text x="534.49" y="748.5" fill="#f8f8f8" font-size="12" font-weight="bold" textLength="31.97" lengthAdjust="spacingAndGlyphs" >02/06</text>
<text x="678.92" y="748.5" fill="#f8f8f8" font-size="12" font-weight="bold" textLength="30.62" lengthAdjust="spacingAndGlyphs" >02/11</text>
<text x="822.5" y="748.5" fill="#f8f8f8" font-size="12" font-weight="bold" textLength="31.57" lengthAdjust="spacingAndGlyphs" >02/14</text>
<text x="966.5" y="748.5" fill="#f8f8f8" font-size="12" font-weight="bold" textLength="31.77" lengthAdjust="spacingAndGlyphs" >02/19</text>
<text x="90.7" y="13.4" fill="#ffffff" font-size="12" textLength="47.6" lengthAdjust="spacingAndGlyphs" font-family="'Liberation Sans','Noto Sans CJK SC',sans-serif">美元指数</text>
<text x="138" y="13.4" fill="#ff6a0a" font-size="12" font-family="'Liberation Sans','Noto Sans CJK SC',sans-serif">【</text>
<text x="151" y="13.4" fill="#ff6a0a" font-size="12" font-weight="normal" text-anchor="start" >240</text>
<text x="170.4" y="13.4" fill="#ff6a0a" font-size="12" font-family="'Liberation Sans','Noto Sans CJK SC',sans-serif">分</text>
<text x="184" y="13.4" fill="#ff6a0a" font-size="12" font-family="'Liberation Sans','Noto Sans CJK SC',sans-serif">】</text>
<g stroke="#ff6a0a" stroke-width="1" fill="none"><circle cx="200.5" cy="11.5" r="4.4"/><path d="M196 11.5H205M200.5 7V16"/></g>
<g shape-rendering="crispEdges"><rect x="213" y="2" width="12" height="13" fill="#9c9c94"/><rect x="212" y="1" width="12" height="13" fill="#000090"/><rect x="213" y="2" width="10" height="11" fill="#fff"/></g>
<path d="M213 8.8 L216.5 4.4 L219.6 7.6 L221.6 5.4 H223" stroke="#f01010" stroke-width="1.1" fill="none"/>
<path d="M213 11.8 L216.5 7.6 L219.6 10.6 L221.8 8.5 H223" stroke="#1010e0" stroke-width="1.1" fill="none"/>
<text x="227.11" y="13.4" fill="#ececec" font-size="12" font-weight="normal" textLength="62.34" lengthAdjust="spacingAndGlyphs" >BOLL(26,2)</text>
<text x="292.65" y="13.4" fill="#ececec" font-size="12" font-weight="normal" textLength="73.39" lengthAdjust="spacingAndGlyphs" >MID:97.5895</text>
<text x="374.1" y="13.4" fill="#c8c81e" font-size="12" font-weight="normal" textLength="85.82" lengthAdjust="spacingAndGlyphs" >UPPER:98.1653</text>
<text x="467.71" y="13.4" fill="#d828d8" font-size="12" font-weight="normal" textLength="91.42" lengthAdjust="spacingAndGlyphs" >LOWER:97.0136</text>
<g shape-rendering="crispEdges"><rect x="563" y="2" width="12" height="13" fill="#9c9c94"/><rect x="562" y="1" width="12" height="13" fill="#000090"/><rect x="563" y="2" width="10" height="11" fill="#fff"/></g>
<path d="M563 8.8 L566.5 4.4 L569.6 7.6 L571.6 5.4 H573" stroke="#f01010" stroke-width="1.1" fill="none"/>
<path d="M563 11.8 L566.5 7.6 L569.6 10.6 L571.8 8.5 H573" stroke="#1010e0" stroke-width="1.1" fill="none"/>
<text x="576.26" y="13.4" fill="#ececec" font-size="12" font-weight="normal" textLength="80.53" lengthAdjust="spacingAndGlyphs" >MA1(0,0,0,50)</text>
<text x="659.46" y="13.4" fill="#ececec" font-size="12" font-weight="normal" textLength="75.54" lengthAdjust="spacingAndGlyphs" >MA0:97.8179</text>
<text x="743.17" y="13.4" fill="#c8c81e" font-size="12" font-weight="normal" textLength="74.83" lengthAdjust="spacingAndGlyphs" >MA0:97.8179</text>
<text x="825.56" y="13.4" fill="#d828d8" font-size="12" font-weight="normal" textLength="75.34" lengthAdjust="spacingAndGlyphs" >MA0:97.8179</text>
<text x="908.45" y="13.4" fill="#20dc20" font-size="12" font-weight="normal" textLength="83.12" lengthAdjust="spacingAndGlyphs" >MA50:97.2744</text>
<rect x="1071.5" y="1.5" width="13" height="13" fill="#0a0a0a" stroke="#9a9a9a" stroke-width="1"/>
<rect x="1087.5" y="1.5" width="13" height="13" fill="#0a0a0a" stroke="#9a9a9a" stroke-width="1"/>
<rect x="1103.5" y="1.5" width="13" height="13" fill="#0a0a0a" stroke="#9a9a9a" stroke-width="1"/>
<rect x="1119.5" y="1.5" width="13" height="13" fill="#0a0a0a" stroke="#9a9a9a" stroke-width="1"/>
<g fill="#9a9a9a" shape-rendering="crispEdges"><rect x="1077" y="3" width="2" height="2"/><rect x="1077" y="7" width="2" height="2"/><rect x="1077" y="11" width="2" height="2"/><rect x="1073" y="7" width="2" height="2"/><rect x="1081" y="7" width="2" height="2"/></g>
<g stroke="#b0b0b0" stroke-width="1" fill="none"><path d="M1090.5 3.5V12.5M1089 5.5l1.5 -2l1.5 2M1089.5 11.5H1098.5M1096.5 10l2 1.5l-2 1.5M1091.5 10l-2 1.5l2 1.5"/></g>
<g stroke="#b0b0b0" stroke-width="1" fill="none"><path d="M1106.5 3.5V12.5M1105 5.5l1.5 -2l1.5 2M1105.5 11.5H1114.5M1112.5 10l2 1.5l-2 1.5M1107.5 10l-2 1.5l2 1.5"/></g>
<path d="M1094.5 4.5V9.5" stroke="#b0b0b0" fill="none"/><path d="M1098 4.2V9.8L1095 7Z" fill="#b0b0b0"/>
<path d="M1109.5 4V10.5L1115 7.2Z" fill="#b0b0b0"/>
<rect x="1121.5" y="3.5" width="3" height="9" fill="none" stroke="#b0b0b0"/><path d="M1123 8H1129" stroke="#b0b0b0" stroke-width="1.4"/><path d="M1127.5 5.5L1130.5 8L1127.5 10.5Z" fill="#b0b0b0"/>
<text x="89.58" y="466.6" fill="#ececec" font-size="12" font-weight="normal" textLength="86.08" lengthAdjust="spacingAndGlyphs" >MACD(26,12,9)</text>
<text x="179.51" y="466.6" fill="#ececec" font-size="12" font-weight="normal" textLength="66.89" lengthAdjust="spacingAndGlyphs" >DIFF:0.1122</text>
<text x="254.03" y="466.6" fill="#c8c81e" font-size="12" font-weight="normal" textLength="63.87" lengthAdjust="spacingAndGlyphs" >DEA:0.1525</text>
<text x="326.36" y="466.6" fill="#d828d8" font-size="12" font-weight="normal" textLength="84.0" lengthAdjust="spacingAndGlyphs" >MACD:-0.0806</text>
<text x="90.32" y="619.1" fill="#ececec" font-size="12" font-weight="normal" textLength="74.52" lengthAdjust="spacingAndGlyphs" >RSI(14,14,14)</text>
<text x="168.92" y="619.1" fill="#ececec" font-size="12" font-weight="normal" textLength="73.17" lengthAdjust="spacingAndGlyphs" >RSI1:58.4511</text>
<text x="250.72" y="619.1" fill="#c8c81e" font-size="12" font-weight="normal" textLength="73.17" lengthAdjust="spacingAndGlyphs" >RSI2:58.4511</text>
<text x="332.31" y="619.1" fill="#d828d8" font-size="12" font-weight="normal" textLength="73.47" lengthAdjust="spacingAndGlyphs" >RSI3:58.4511</text>
<g stroke="#ff1010" stroke-width="1"><path d="M27 604v3M27 617v3M19 612h3M32 612h3M21.5 606.5l2 2M30.5 615.5l2 2M32.5 606.5l-2 2M23.5 615.5l-2 2"/></g><circle cx="27" cy="612" r="3.2" fill="#fff"/><circle cx="27" cy="612" r="1.6" fill="#ff1010"/>
<rect x="212" y="603" width="19" height="1" fill="#e0e0e0"/>
<text x="28.3" y="750" fill="#ff6a0a" font-size="12" font-weight="bold" text-anchor="start" >240</text>
<text x="48.8" y="750" fill="#ff6a0a" font-size="12" font-weight="bold" font-family="'Liberation Sans','Noto Sans CJK SC',sans-serif">分</text>
<path d="M66.7 749.5L71.2 741.5L75.7 749.5Z" fill="#ff6a0a"/>
<text x="1071.25703125" y="728.2" fill="#eef2fa" font-size="31" font-weight="normal" textLength="100.09013671875005" lengthAdjust="spacing" style="text-shadow:0 0 2px #000">FX678</text>
</svg>
</body></html>
